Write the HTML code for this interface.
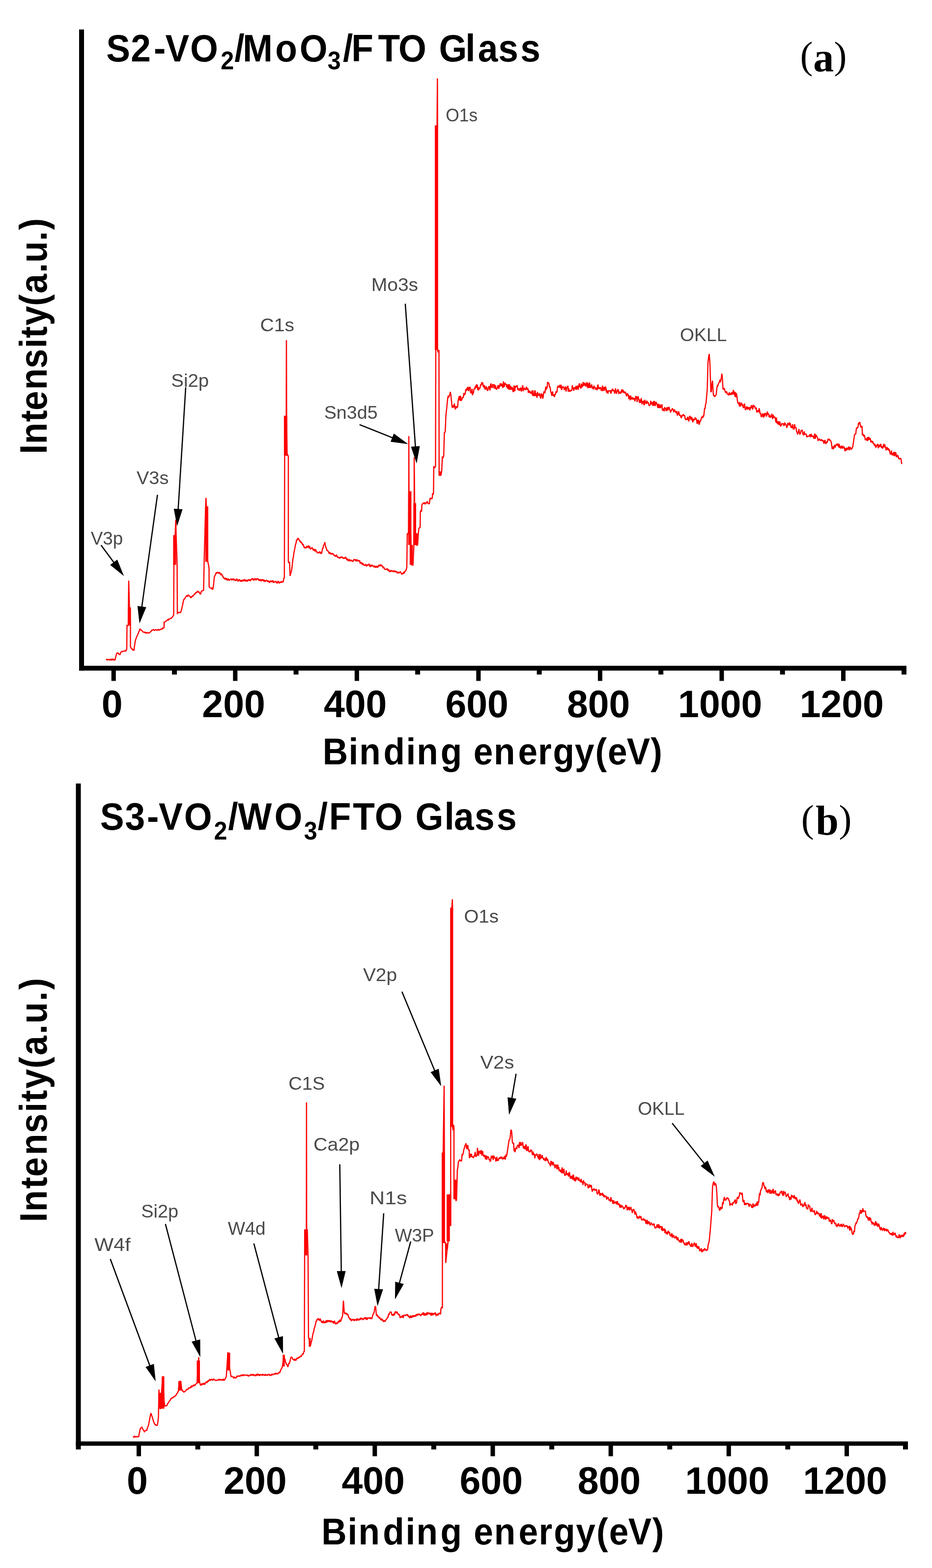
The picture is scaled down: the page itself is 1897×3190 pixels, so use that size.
<!DOCTYPE html><html><head><meta charset="utf-8"><title>XPS spectra</title><style>html,body{margin:0;padding:0;background:#fff;width:1897px;height:3190px;overflow:hidden}</style></head><body><svg width="1897" height="3190" viewBox="0 0 1897 3190" style="display:block"><rect width="100%" height="100%" fill="#fff"/><rect x="161.00" y="60.00" width="10.00" height="1304.30" fill="#000"/><rect x="161.00" y="1354.50" width="1684.00" height="9.80" fill="#000"/><rect x="226.75" y="1363.30" width="9.00" height="22.00" fill="#000"/><rect x="474.29" y="1363.30" width="9.00" height="22.00" fill="#000"/><rect x="721.83" y="1363.30" width="9.00" height="22.00" fill="#000"/><rect x="969.37" y="1363.30" width="9.00" height="22.00" fill="#000"/><rect x="1216.91" y="1363.30" width="9.00" height="22.00" fill="#000"/><rect x="1464.45" y="1363.30" width="9.00" height="22.00" fill="#000"/><rect x="1711.99" y="1363.30" width="9.00" height="22.00" fill="#000"/><rect x="350.02" y="1363.30" width="10.00" height="9.00" fill="#000"/><rect x="597.56" y="1363.30" width="10.00" height="9.00" fill="#000"/><rect x="845.10" y="1363.30" width="10.00" height="9.00" fill="#000"/><rect x="1092.64" y="1363.30" width="10.00" height="9.00" fill="#000"/><rect x="1340.18" y="1363.30" width="10.00" height="9.00" fill="#000"/><rect x="1587.72" y="1363.30" width="10.00" height="9.00" fill="#000"/><rect x="1835.00" y="1363.30" width="10.00" height="9.00" fill="#000"/>
<rect x="154.50" y="1594.00" width="10.00" height="1354.80" fill="#000"/><rect x="154.50" y="2932.50" width="1693.50" height="8.80" fill="#000"/><rect x="278.00" y="2940.30" width="9.00" height="22.30" fill="#000"/><rect x="518.16" y="2940.30" width="9.00" height="22.30" fill="#000"/><rect x="758.32" y="2940.30" width="9.00" height="22.30" fill="#000"/><rect x="998.48" y="2940.30" width="9.00" height="22.30" fill="#000"/><rect x="1238.64" y="2940.30" width="9.00" height="22.30" fill="#000"/><rect x="1478.80" y="2940.30" width="9.00" height="22.30" fill="#000"/><rect x="1718.96" y="2940.30" width="9.00" height="22.30" fill="#000"/><rect x="397.58" y="2940.30" width="10.00" height="8.50" fill="#000"/><rect x="637.74" y="2940.30" width="10.00" height="8.50" fill="#000"/><rect x="877.90" y="2940.30" width="10.00" height="8.50" fill="#000"/><rect x="1118.06" y="2940.30" width="10.00" height="8.50" fill="#000"/><rect x="1358.22" y="2940.30" width="10.00" height="8.50" fill="#000"/><rect x="1598.38" y="2940.30" width="10.00" height="8.50" fill="#000"/><rect x="1838.00" y="2940.30" width="10.00" height="8.50" fill="#000"/>
<text x="228.05" y="1459.30" text-anchor="middle" font-family="Liberation Sans, sans-serif" font-weight="bold" font-size="77">0</text>
<text x="475.59" y="1459.30" text-anchor="middle" font-family="Liberation Sans, sans-serif" font-weight="bold" font-size="77">200</text>
<text x="723.13" y="1459.30" text-anchor="middle" font-family="Liberation Sans, sans-serif" font-weight="bold" font-size="77">400</text>
<text x="970.67" y="1459.30" text-anchor="middle" font-family="Liberation Sans, sans-serif" font-weight="bold" font-size="77">600</text>
<text x="1218.21" y="1459.30" text-anchor="middle" font-family="Liberation Sans, sans-serif" font-weight="bold" font-size="77">800</text>
<text x="1465.75" y="1459.30" text-anchor="middle" font-family="Liberation Sans, sans-serif" font-weight="bold" font-size="77">1000</text>
<text x="1713.29" y="1459.30" text-anchor="middle" font-family="Liberation Sans, sans-serif" font-weight="bold" font-size="77">1200</text>
<text x="279.30" y="3039.30" text-anchor="middle" font-family="Liberation Sans, sans-serif" font-weight="bold" font-size="77">0</text>
<text x="519.46" y="3039.30" text-anchor="middle" font-family="Liberation Sans, sans-serif" font-weight="bold" font-size="77">200</text>
<text x="759.62" y="3039.30" text-anchor="middle" font-family="Liberation Sans, sans-serif" font-weight="bold" font-size="77">400</text>
<text x="999.78" y="3039.30" text-anchor="middle" font-family="Liberation Sans, sans-serif" font-weight="bold" font-size="77">600</text>
<text x="1239.94" y="3039.30" text-anchor="middle" font-family="Liberation Sans, sans-serif" font-weight="bold" font-size="77">800</text>
<text x="1480.10" y="3039.30" text-anchor="middle" font-family="Liberation Sans, sans-serif" font-weight="bold" font-size="77">1000</text>
<text x="1720.26" y="3039.30" text-anchor="middle" font-family="Liberation Sans, sans-serif" font-weight="bold" font-size="77">1200</text>
<text transform="scale(0.9300 1)" x="706.07 762.96 786.27 839.15 888.60 911.97 964.18 1010.88 1036.34 1080.68 1133.81 1177.37 1210.15 1258.20 1302.60 1330.05 1371.69 1423.97" y="1555.00" font-family="Liberation Sans, sans-serif" font-weight="bold" font-size="76.50" fill="#000">Binding energy(eV)</text>
<text transform="scale(0.9300 1)" x="703.60 760.83 784.46 837.80 887.58 911.27 963.93 1010.93 1036.71 1081.46 1135.04 1178.94 1212.07 1260.53 1305.26 1333.01 1375.05 1427.66" y="3142.50" font-family="Liberation Sans, sans-serif" font-weight="bold" font-size="76.50" fill="#000">Binding energy(eV)</text>
<text transform="translate(95.20 0) rotate(-90) scale(0.9300 1)" x="-993.17 -971.62 -922.82 -897.94 -852.59 -805.92 -761.52 -739.59 -712.15 -669.32 -641.82 -596.90 -574.87 -527.11 -502.88" y="0" font-family="Liberation Sans, sans-serif" font-weight="bold" font-size="77.0">Intensity(a.u.)</text>
<text transform="translate(95.20 0) rotate(-90) scale(0.9300 1)" x="-2673.27 -2650.47 -2600.27 -2574.16 -2527.08 -2478.78 -2433.15 -2410.34 -2381.57 -2337.43 -2308.62 -2262.50 -2239.20 -2190.16 -2165.03" y="0" font-family="Liberation Sans, sans-serif" font-weight="bold" font-size="77.0">Intensity(a.u.)</text>
<text transform="scale(0.9500 1)" font-family="Liberation Sans, sans-serif" font-weight="bold" fill="#000"><tspan x="227.61 280.37 329.59 354.32 407.46" y="124.70" font-size="77.00">S2-VO</tspan><tspan x="472.80" y="141.20" font-size="51.00">2</tspan><tspan x="502.46 520.03 589.64 641.78" y="124.70" font-size="77.00">/MoO</tspan><tspan x="701.94" y="141.20" font-size="51.00">3</tspan><tspan x="734.67 752.95 810.04 853.67 905.09 940.60 997.24 1023.95 1067.66 1115.02" y="124.70" font-size="77.00">/FTO Glass</tspan></text>
<text transform="scale(0.9500 1)" font-family="Liberation Sans, sans-serif" font-weight="bold" fill="#000"><tspan x="214.45 267.94 314.85 340.11 394.41" y="1688.50" font-size="77.00">S3-VO</tspan><tspan x="458.32" y="1708.30" font-size="51.00">2</tspan><tspan x="488.67 509.71 587.88" y="1688.50" font-size="77.00">/WO</tspan><tspan x="651.31" y="1708.30" font-size="51.00">3</tspan><tspan x="680.78 704.90 756.04 802.99 862.99 889.91 952.24 972.58 1016.97 1064.34" y="1688.50" font-size="77.00">/FTO Glass</tspan></text>
<text font-family="Liberation Serif, serif" fill="#000"><tspan x="1628.56" y="138.90" font-size="78" font-weight="normal">(</tspan><tspan x="1655.28" y="145.20" font-size="84" font-weight="bold">a</tspan><tspan x="1697.47" y="138.90" font-size="78" font-weight="normal">)</tspan></text>
<text font-family="Liberation Serif, serif" fill="#000"><tspan x="1630.76" y="1691.80" font-size="78" font-weight="normal">(</tspan><tspan x="1660.21" y="1698.30" font-size="84" font-weight="bold">b</tspan><tspan x="1707.47" y="1691.80" font-size="78" font-weight="normal">)</tspan></text>
<path d="M216.0 1342.0 L216.9 1341.3 L217.8 1342.7 L218.8 1342.5 L219.7 1341.5 L220.6 1342.0 L221.5 1341.9 L222.4 1342.3 L223.4 1342.6 L224.3 1341.2 L225.2 1341.1 L226.1 1342.7 L227.0 1341.9 L228.0 1342.5 L228.9 1341.0 L229.8 1341.9 L230.7 1342.4 L231.6 1341.5 L232.6 1342.9 L233.5 1342.8 L234.4 1342.0 L235.5 1336.7 L236.6 1332.4 L237.7 1329.0 L238.8 1328.7 L240.0 1328.3 L241.0 1330.2 L242.1 1330.1 L243.1 1330.8 L244.1 1332.4 L245.0 1330.1 L245.9 1327.2 L246.8 1326.0 L247.8 1325.3 L248.7 1325.5 L249.7 1325.5 L250.6 1324.8 L251.6 1324.6 L252.5 1324.4 L253.5 1324.7 L254.4 1324.2 L255.4 1323.5 L256.3 1324.3 L258.0 1320.0 L258.5 1272.5 L259.8 1273.2 L261.0 1272.5 L262.0 1181.2 L263.5 1235.7 L265.5 1272.5 L265.5 1316.0 L266.8 1318.2 L268.0 1320.2 L268.9 1321.0 L269.9 1320.7 L270.8 1322.8 L271.8 1323.1 L272.7 1322.9 L274.1 1312.0 L275.4 1303.8 L276.5 1299.9 L277.7 1297.1 L278.8 1294.3 L279.9 1292.0 L281.1 1289.3 L282.2 1286.1 L283.1 1284.7 L284.1 1281.4 L285.0 1279.3 L286.1 1281.0 L287.2 1281.8 L288.2 1282.1 L289.3 1283.8 L290.4 1284.7 L291.3 1285.9 L292.2 1286.3 L293.1 1286.1 L294.1 1286.7 L295.0 1286.1 L295.9 1287.5 L296.8 1287.0 L297.7 1288.1 L298.6 1287.3 L299.5 1286.8 L300.4 1287.6 L301.3 1287.9 L302.2 1287.8 L303.1 1287.2 L304.0 1287.5 L304.9 1286.5 L305.8 1285.7 L306.8 1285.3 L307.7 1283.9 L308.6 1282.7 L309.5 1282.0 L310.4 1281.9 L311.4 1280.9 L312.3 1280.9 L313.2 1282.1 L314.2 1282.6 L315.1 1281.8 L316.0 1281.3 L317.0 1280.8 L317.9 1281.4 L318.8 1282.3 L319.7 1281.8 L320.7 1281.3 L321.6 1281.8 L322.5 1280.5 L323.5 1281.0 L324.4 1281.8 L325.3 1281.0 L326.3 1280.7 L327.2 1280.7 L328.2 1279.7 L329.1 1279.6 L330.1 1279.9 L331.1 1277.4 L332.1 1278.3 L333.0 1277.8 L334.0 1276.6 L334.0 1265.7 L335.0 1265.9 L335.9 1265.0 L336.9 1264.6 L337.9 1263.4 L338.9 1262.9 L339.8 1262.0 L340.8 1261.6 L341.7 1260.2 L342.6 1261.5 L343.5 1260.4 L344.4 1259.1 L345.4 1259.3 L346.3 1258.8 L347.2 1258.1 L348.1 1257.6 L349.0 1257.5 L350.0 1256.2 L351.1 1255.0 L352.1 1253.6 L353.1 1252.0 L353.5 1250.7 L354.0 1149.0 L356.5 1088.6 L357.8 1057.2 L358.5 1088.6 L360.5 1149.2 L361.0 1248.0 L362.0 1247.5 L363.0 1245.9 L364.0 1246.0 L365.0 1245.5 L366.0 1246.1 L367.0 1246.4 L368.0 1245.0 L368.9 1242.2 L369.9 1238.7 L370.8 1234.3 L371.9 1230.2 L373.1 1223.5 L374.2 1219.3 L375.3 1219.1 L376.5 1217.2 L377.6 1215.3 L378.6 1213.3 L379.5 1212.5 L380.5 1211.9 L381.5 1213.8 L382.5 1211.5 L383.4 1210.5 L384.4 1211.2 L385.4 1213.0 L386.4 1213.4 L387.5 1213.8 L388.5 1216.6 L389.5 1214.5 L390.4 1214.7 L391.4 1212.6 L392.4 1211.9 L393.4 1212.5 L394.3 1210.6 L395.3 1209.8 L396.2 1208.4 L397.1 1208.2 L398.0 1205.9 L398.9 1206.4 L399.9 1205.7 L400.8 1204.2 L401.7 1203.1 L402.6 1205.2 L403.5 1203.0 L404.5 1204.4 L405.6 1204.7 L406.6 1207.4 L407.6 1208.4 L408.5 1208.2 L409.5 1204.0 L410.4 1202.6 L411.4 1201.7 L412.3 1201.6 L413.4 1201.8 L414.4 1200.3 L415.5 1143.0 L418.5 1030.0 L419.2 1012.9 L420.0 1030.0 L423.0 1143.0 L424.2 1148.2 L425.5 1156.7 L425.6 1193.5 L426.7 1195.2 L427.8 1195.9 L428.9 1196.3 L430.0 1197.0 L431.2 1196.3 L432.3 1199.5 L433.5 1198.0 L434.9 1187.4 L436.2 1174.4 L437.5 1171.1 L438.9 1167.6 L440.1 1165.4 L441.2 1166.3 L442.4 1164.6 L443.3 1164.5 L444.2 1165.7 L445.2 1164.9 L446.1 1166.7 L447.0 1164.4 L447.9 1165.9 L448.9 1169.3 L449.8 1169.2 L450.7 1167.9 L451.6 1168.5 L452.6 1172.3 L453.5 1171.3 L454.5 1175.5 L455.4 1176.0 L456.4 1176.0 L457.3 1177.8 L458.2 1176.8 L459.1 1175.9 L460.0 1179.7 L460.9 1176.2 L461.8 1179.6 L462.7 1180.3 L463.7 1178.7 L464.6 1177.1 L465.5 1180.1 L466.4 1180.7 L467.3 1179.6 L468.2 1178.9 L469.1 1178.4 L470.0 1178.4 L470.9 1177.9 L471.8 1179.9 L472.7 1179.0 L473.6 1178.1 L474.6 1177.8 L475.5 1180.3 L476.4 1178.8 L477.3 1179.7 L478.2 1179.1 L479.1 1181.5 L480.0 1180.0 L480.9 1181.7 L481.8 1178.1 L482.8 1178.9 L483.7 1179.5 L484.6 1182.3 L485.5 1181.5 L486.4 1179.7 L487.3 1179.2 L488.3 1181.2 L489.2 1181.9 L490.1 1182.3 L491.0 1180.0 L491.9 1182.2 L492.9 1181.5 L493.8 1180.7 L494.7 1182.8 L495.6 1179.7 L496.5 1181.8 L497.4 1179.2 L498.4 1179.6 L499.3 1182.8 L500.2 1181.1 L501.1 1179.8 L502.0 1181.9 L502.9 1181.1 L503.8 1182.0 L504.7 1179.8 L505.6 1179.6 L506.5 1179.2 L507.4 1181.5 L508.3 1180.3 L509.2 1181.6 L510.1 1181.2 L511.0 1177.9 L511.9 1179.5 L512.8 1177.5 L513.7 1177.1 L514.6 1177.1 L515.5 1180.2 L516.4 1179.8 L517.3 1179.8 L518.2 1177.6 L519.1 1178.6 L520.0 1178.0 L520.9 1179.4 L521.8 1177.8 L522.7 1178.8 L523.6 1177.6 L524.5 1177.2 L525.5 1178.1 L526.4 1180.9 L527.3 1179.7 L528.2 1181.4 L529.1 1179.6 L530.0 1179.1 L530.9 1181.4 L531.8 1181.7 L532.7 1178.5 L533.6 1181.4 L534.5 1179.2 L535.5 1179.5 L536.4 1182.9 L537.3 1179.5 L538.2 1180.6 L539.1 1183.8 L540.0 1182.0 L540.9 1181.8 L541.8 1180.6 L542.7 1180.9 L543.6 1181.3 L544.5 1183.5 L545.5 1180.9 L546.4 1184.3 L547.3 1182.2 L548.2 1184.8 L549.1 1184.6 L550.0 1182.2 L550.9 1182.1 L551.8 1183.1 L552.7 1181.6 L553.6 1184.0 L554.5 1181.6 L555.5 1181.5 L556.4 1185.6 L557.3 1182.9 L558.2 1184.2 L559.1 1183.7 L560.0 1184.0 L560.9 1183.3 L561.9 1182.3 L562.8 1185.8 L563.8 1186.0 L564.7 1186.0 L565.7 1182.6 L566.6 1183.0 L567.6 1184.7 L568.5 1186.2 L569.5 1184.4 L570.4 1185.0 L571.4 1184.9 L572.3 1183.3 L573.3 1184.5 L574.2 1183.6 L575.2 1183.3 L576.1 1184.4 L577.5 1177.7 L578.8 1174.5 L579.4 930.0 L582.6 845.0 L583.0 692.0 L583.4 845.0 L584.4 927.0 L585.6 925.6 L586.9 928.6 L586.9 1143.0 L588.1 1145.4 L589.4 1143.0 L590.4 1171.7 L591.5 1167.3 L592.6 1164.1 L593.7 1159.2 L595.0 1148.7 L596.2 1136.8 L597.1 1134.2 L598.0 1126.2 L599.0 1120.7 L599.9 1116.8 L600.8 1111.1 L601.8 1106.4 L602.7 1104.9 L603.6 1098.1 L604.5 1099.9 L605.5 1095.6 L606.5 1095.2 L607.4 1095.6 L608.4 1097.6 L609.4 1099.6 L610.4 1101.4 L611.4 1101.0 L612.4 1104.3 L613.3 1102.7 L614.2 1105.3 L615.2 1105.5 L616.1 1109.6 L617.0 1108.0 L617.9 1109.3 L618.9 1113.8 L619.8 1114.3 L620.7 1112.8 L621.7 1115.4 L622.6 1113.3 L623.5 1115.1 L624.5 1110.7 L625.4 1112.4 L626.4 1113.8 L627.3 1111.8 L628.2 1109.8 L629.2 1115.4 L630.1 1111.3 L631.0 1115.3 L632.0 1117.0 L632.9 1116.5 L633.9 1114.1 L634.8 1115.6 L635.7 1113.9 L636.6 1116.8 L637.5 1119.7 L638.4 1116.7 L639.3 1120.6 L640.3 1117.0 L641.2 1121.9 L642.1 1117.5 L643.0 1119.6 L643.9 1123.5 L644.8 1121.8 L645.7 1123.8 L646.6 1124.7 L647.5 1124.7 L648.4 1124.5 L649.3 1124.5 L650.2 1122.0 L651.1 1123.8 L652.0 1122.6 L652.9 1126.0 L653.8 1126.1 L654.7 1125.5 L655.7 1120.1 L656.6 1114.9 L657.5 1116.0 L658.5 1109.3 L659.8 1108.0 L661.0 1103.1 L662.2 1109.0 L663.5 1114.3 L664.5 1116.4 L665.6 1120.0 L666.6 1119.6 L667.6 1121.2 L668.7 1122.7 L669.7 1125.5 L670.6 1124.5 L671.5 1123.6 L672.4 1127.3 L673.3 1126.4 L674.2 1127.6 L675.2 1125.2 L676.1 1127.1 L677.0 1126.3 L677.9 1126.6 L678.8 1127.7 L679.7 1129.3 L680.6 1131.5 L681.5 1129.7 L682.4 1130.1 L683.3 1131.7 L684.2 1130.2 L685.2 1129.4 L686.1 1132.6 L687.0 1132.9 L687.9 1134.2 L688.8 1133.5 L689.7 1134.3 L690.7 1135.3 L691.7 1135.5 L692.7 1132.9 L693.7 1134.3 L694.7 1134.2 L695.6 1132.9 L696.6 1133.8 L697.6 1134.6 L698.6 1136.4 L699.6 1134.3 L700.5 1136.9 L701.4 1134.0 L702.3 1136.4 L703.2 1133.7 L704.1 1134.3 L705.1 1137.0 L706.0 1139.4 L706.9 1136.1 L707.8 1139.7 L708.7 1140.7 L709.6 1139.2 L710.5 1138.3 L711.4 1140.3 L712.3 1141.2 L713.2 1138.8 L714.1 1140.5 L715.0 1140.8 L715.9 1140.1 L716.8 1141.5 L717.7 1141.8 L718.6 1142.2 L719.5 1140.2 L720.5 1138.2 L721.4 1138.7 L722.3 1138.6 L723.2 1140.4 L724.1 1141.5 L725.0 1137.9 L725.9 1141.2 L726.8 1141.4 L727.7 1139.6 L728.6 1140.5 L729.5 1140.5 L730.4 1139.5 L731.3 1143.0 L732.2 1140.2 L733.1 1145.7 L734.0 1145.5 L735.0 1145.2 L735.9 1144.1 L736.8 1148.0 L737.7 1148.9 L738.6 1145.5 L739.5 1148.0 L740.4 1149.5 L741.4 1150.0 L742.3 1149.3 L743.2 1149.6 L744.2 1148.5 L745.1 1151.0 L746.1 1151.4 L747.0 1148.7 L747.9 1150.9 L748.9 1149.2 L749.8 1148.1 L750.8 1149.0 L751.7 1148.2 L752.6 1152.2 L753.6 1152.6 L754.5 1150.5 L755.5 1149.0 L756.5 1151.7 L757.5 1151.2 L758.5 1150.1 L759.5 1151.4 L760.4 1151.5 L761.4 1154.3 L762.4 1151.1 L763.4 1152.3 L764.4 1154.2 L765.4 1153.5 L766.3 1151.1 L767.3 1153.7 L768.2 1153.2 L769.2 1153.9 L770.2 1150.5 L771.1 1150.5 L772.1 1151.3 L773.1 1149.6 L774.0 1150.8 L775.0 1148.7 L775.9 1150.5 L776.9 1149.2 L777.8 1151.7 L778.8 1152.9 L779.7 1154.8 L780.6 1153.8 L781.6 1154.7 L782.5 1157.5 L783.5 1158.2 L784.4 1158.0 L785.4 1158.6 L786.3 1158.0 L787.3 1157.8 L788.2 1157.3 L789.2 1160.9 L790.2 1157.9 L791.1 1161.1 L792.1 1160.5 L793.1 1162.7 L794.0 1162.1 L795.0 1163.3 L795.9 1159.7 L796.9 1161.7 L797.9 1161.9 L798.8 1162.4 L799.8 1161.4 L800.7 1162.5 L801.7 1162.0 L802.6 1163.0 L803.6 1160.8 L804.5 1163.0 L805.5 1163.2 L806.4 1162.7 L807.4 1163.4 L808.3 1165.3 L809.3 1164.2 L810.2 1165.3 L811.1 1164.6 L812.0 1165.6 L812.9 1164.6 L813.8 1164.0 L814.8 1163.3 L815.7 1164.8 L816.6 1166.5 L817.5 1168.0 L818.4 1168.0 L819.3 1166.7 L820.3 1165.9 L821.4 1167.2 L822.4 1164.0 L823.4 1164.9 L824.5 1162.1 L825.5 1161.7 L826.8 1159.0 L828.0 1154.0 L829.0 1084.8 L830.2 1087.2 L831.5 1083.3 L832.0 999.4 L832.1 887.2 L832.5 999.4 L836.0 1083.3 L836.5 1108.6 L838.0 1149.2 L839.2 1148.9 L840.5 1150.5 L842.5 1108.6 L843.0 1023.6 L843.0 930.6 L844.0 1023.6 L846.0 1108.6 L847.0 1106.7 L848.0 1109.3 L849.0 1108.8 L850.0 1108.6 L851.6 1084.3 L852.6 1075.2 L853.9 1073.3 L855.1 1073.2 L855.6 1041.8 L856.9 1037.6 L858.1 1040.8 L858.6 1027.7 L859.6 1025.5 L860.7 1024.4 L861.7 1023.6 L862.7 1022.5 L863.7 1025.7 L864.7 1023.1 L865.7 1024.0 L866.7 1024.9 L867.7 1023.3 L868.7 1020.9 L869.7 1020.6 L870.7 1023.6 L871.8 1023.8 L872.8 1024.9 L873.8 1024.7 L875.3 1013.5 L876.2 1014.6 L877.1 1012.7 L878.1 1014.6 L879.0 1014.6 L879.9 1013.5 L880.4 1003.4 L881.4 1006.6 L882.4 1002.4 L882.9 948.3 L883.8 950.9 L884.7 951.4 L885.6 950.5 L886.5 947.8 L887.0 712.0 L889.6 255.0 L890.3 159.4 L890.6 255.0 L890.6 712.0 L891.6 716.9 L892.5 713.6 L893.5 712.0 L893.8 959.0 L894.9 960.6 L895.9 962.8 L897.0 968.0 L898.0 964.9 L899.1 957.9 L900.5 928.6 L901.8 931.9 L903.1 927.6 L904.5 880.1 L906.1 879.1 L907.0 860.0 L907.5 846.0 L908.8 834.9 L910.0 822.7 L911.3 809.3 L912.6 805.0 L913.6 808.9 L914.6 803.9 L915.6 803.2 L916.6 797.1 L917.6 802.7 L918.8 814.7 L920.0 826.5 L921.0 829.7 L921.9 825.7 L922.9 825.0 L923.8 828.9 L924.8 820.9 L925.7 827.2 L926.6 832.8 L927.6 829.7 L928.5 826.2 L929.5 829.9 L930.4 828.9 L931.4 827.7 L932.6 814.6 L933.9 809.0 L934.8 805.7 L935.7 815.1 L936.6 807.6 L937.5 805.6 L938.4 815.9 L939.3 812.5 L940.2 812.7 L941.1 808.8 L942.1 808.5 L943.0 809.3 L944.0 799.6 L944.9 803.8 L945.8 802.4 L946.8 801.6 L947.7 795.2 L948.6 791.3 L949.6 795.1 L950.5 789.2 L951.5 792.9 L952.4 786.8 L953.3 794.4 L954.3 794.7 L955.2 788.9 L956.1 788.0 L957.1 788.0 L958.0 799.4 L959.0 797.3 L959.9 800.6 L960.8 791.1 L961.8 804.1 L962.7 800.2 L963.7 798.8 L964.7 791.7 L965.7 790.2 L966.7 791.7 L967.7 785.1 L968.7 789.5 L969.6 781.8 L970.5 788.2 L971.5 782.4 L972.5 793.9 L973.4 787.2 L974.3 794.0 L975.3 788.9 L976.3 790.8 L977.4 787.8 L978.4 781.9 L979.4 784.3 L980.5 777.7 L981.5 781.4 L982.4 777.6 L983.4 786.7 L984.3 783.0 L985.3 789.4 L986.2 783.6 L987.1 791.3 L988.1 792.4 L989.0 788.0 L990.0 786.4 L990.9 791.5 L991.9 793.9 L992.8 795.2 L993.7 788.6 L994.6 788.5 L995.5 785.4 L996.4 791.5 L997.3 794.2 L998.3 783.8 L999.2 780.1 L1000.1 787.9 L1001.0 788.2 L1001.9 789.0 L1002.8 781.4 L1003.8 784.4 L1004.7 782.0 L1005.6 790.2 L1006.6 781.8 L1007.5 791.0 L1008.5 784.3 L1009.4 789.8 L1010.4 792.6 L1011.4 791.4 L1012.3 788.7 L1013.3 784.8 L1014.3 784.5 L1015.2 791.4 L1016.2 785.4 L1017.2 785.9 L1018.1 779.8 L1019.1 782.6 L1020.0 785.4 L1021.0 780.1 L1021.9 783.6 L1022.9 787.8 L1023.8 788.9 L1024.8 775.8 L1025.7 786.0 L1026.6 786.7 L1027.6 779.2 L1028.5 780.0 L1029.5 782.6 L1030.4 781.4 L1031.3 788.2 L1032.2 782.1 L1033.1 789.6 L1034.0 789.0 L1034.9 781.8 L1035.9 793.1 L1036.8 781.9 L1037.7 784.7 L1038.6 792.8 L1039.5 785.6 L1040.4 792.6 L1041.3 790.8 L1042.3 787.3 L1043.2 791.6 L1044.2 796.5 L1045.1 797.3 L1046.1 785.4 L1047.0 785.5 L1048.0 795.9 L1048.9 785.0 L1049.8 787.9 L1050.8 785.6 L1051.7 785.1 L1052.7 784.1 L1053.6 792.2 L1054.6 793.5 L1055.5 790.0 L1056.5 792.5 L1057.4 794.7 L1058.4 792.2 L1059.3 788.5 L1060.3 791.8 L1061.2 796.4 L1062.2 791.9 L1063.1 786.5 L1064.1 784.0 L1065.0 795.9 L1066.0 790.0 L1066.9 791.7 L1067.9 788.8 L1068.8 792.7 L1069.8 792.5 L1070.7 792.4 L1071.7 786.7 L1072.6 791.0 L1073.5 792.3 L1074.5 789.8 L1075.4 799.4 L1076.4 793.7 L1077.3 797.3 L1078.3 798.4 L1079.2 796.0 L1080.1 799.7 L1081.0 799.9 L1082.0 800.8 L1082.9 794.5 L1083.8 804.7 L1084.7 794.1 L1085.6 804.8 L1086.5 804.4 L1087.5 804.8 L1088.4 794.7 L1089.3 795.6 L1090.2 805.7 L1091.1 801.6 L1092.0 800.7 L1093.0 809.3 L1093.9 797.3 L1094.8 804.3 L1095.7 804.3 L1096.7 803.9 L1097.7 800.1 L1098.7 803.9 L1099.7 808.4 L1100.7 811.0 L1101.6 800.0 L1102.6 806.9 L1103.6 801.6 L1104.6 811.2 L1105.6 807.6 L1106.5 799.5 L1107.4 796.0 L1108.3 798.0 L1109.2 799.9 L1110.1 791.6 L1111.0 786.5 L1111.9 792.8 L1112.8 790.3 L1113.7 788.3 L1114.6 778.0 L1115.5 778.0 L1116.4 779.8 L1117.4 780.1 L1118.3 787.2 L1119.2 787.0 L1120.1 789.9 L1121.1 798.7 L1122.0 797.7 L1122.9 805.1 L1123.8 801.5 L1124.8 796.4 L1125.7 805.0 L1126.6 804.3 L1127.5 802.1 L1128.4 807.8 L1129.3 802.7 L1130.2 802.8 L1131.1 799.5 L1132.0 795.8 L1132.9 799.1 L1133.8 796.8 L1134.7 788.0 L1135.6 784.7 L1136.5 787.8 L1137.4 786.2 L1138.3 788.5 L1139.2 782.9 L1140.2 786.4 L1141.1 789.7 L1142.0 782.7 L1142.9 793.4 L1143.8 791.3 L1144.8 786.9 L1145.7 786.9 L1146.6 787.8 L1147.5 787.6 L1148.4 793.5 L1149.3 790.4 L1150.2 790.9 L1151.2 786.0 L1152.1 796.5 L1153.0 791.1 L1153.9 788.6 L1154.8 788.4 L1155.8 784.7 L1156.7 796.9 L1157.6 789.9 L1158.5 795.6 L1159.4 795.6 L1160.3 796.0 L1161.2 793.7 L1162.2 795.0 L1163.1 794.8 L1164.0 793.0 L1164.9 783.8 L1165.8 788.9 L1166.8 789.4 L1167.7 794.9 L1168.6 791.8 L1169.5 787.8 L1170.4 790.4 L1171.3 790.8 L1172.2 785.4 L1173.2 793.1 L1174.1 788.8 L1175.0 785.4 L1175.9 786.0 L1176.8 792.9 L1177.8 786.6 L1178.7 781.4 L1179.6 781.0 L1180.5 788.2 L1181.4 786.3 L1182.3 790.8 L1183.2 780.7 L1184.2 783.7 L1185.1 787.8 L1186.0 784.5 L1186.9 778.4 L1187.8 779.0 L1188.8 785.1 L1189.7 781.3 L1190.6 779.1 L1191.5 781.2 L1192.4 786.3 L1193.3 784.9 L1194.2 778.7 L1195.2 778.7 L1196.1 789.3 L1197.0 786.5 L1197.9 780.0 L1198.8 789.4 L1199.8 778.0 L1200.7 782.7 L1201.6 789.3 L1202.5 784.5 L1203.4 787.6 L1204.3 781.9 L1205.2 790.4 L1206.2 786.6 L1207.1 790.4 L1208.0 791.0 L1208.9 784.8 L1209.8 788.4 L1210.8 786.8 L1211.7 792.4 L1212.6 790.6 L1213.5 789.8 L1214.4 791.2 L1215.3 793.8 L1216.2 783.9 L1217.2 783.4 L1218.1 791.0 L1219.0 787.8 L1219.9 791.8 L1220.8 788.7 L1221.8 788.7 L1222.7 788.0 L1223.6 794.8 L1224.5 794.0 L1225.5 791.5 L1226.4 784.5 L1227.3 795.8 L1228.2 790.9 L1229.1 787.6 L1230.1 789.5 L1231.0 795.1 L1231.9 786.3 L1232.8 788.2 L1233.8 791.0 L1234.7 799.2 L1235.6 794.4 L1236.5 797.7 L1237.4 800.7 L1238.3 795.0 L1239.2 795.4 L1240.2 795.1 L1241.1 794.7 L1242.0 795.0 L1242.9 798.7 L1243.8 800.5 L1244.7 793.2 L1245.6 796.1 L1246.5 791.8 L1247.4 791.7 L1248.4 794.5 L1249.3 795.6 L1250.2 795.1 L1251.1 800.8 L1252.0 794.4 L1252.9 789.9 L1253.8 796.2 L1254.8 801.0 L1255.7 797.6 L1256.6 795.3 L1257.5 792.6 L1258.5 793.1 L1259.4 800.3 L1260.3 799.7 L1261.2 796.7 L1262.1 799.8 L1263.1 800.1 L1264.0 799.1 L1264.9 792.8 L1265.8 793.9 L1266.8 798.4 L1267.7 792.7 L1268.6 794.4 L1269.5 799.4 L1270.5 797.5 L1271.4 797.2 L1272.4 800.4 L1273.3 797.6 L1274.3 802.4 L1275.2 806.0 L1276.1 805.1 L1277.1 800.1 L1278.0 802.4 L1279.0 803.8 L1279.9 811.9 L1280.9 808.6 L1281.8 804.9 L1282.7 814.4 L1283.7 805.0 L1284.6 808.6 L1285.6 811.8 L1286.5 811.4 L1287.5 808.2 L1288.4 813.0 L1289.3 809.4 L1290.3 812.6 L1291.2 809.9 L1292.2 816.4 L1293.1 813.3 L1294.1 805.4 L1295.0 811.0 L1295.9 806.6 L1296.8 817.9 L1297.8 808.7 L1298.7 806.4 L1299.6 809.8 L1300.5 813.1 L1301.5 819.6 L1302.4 812.8 L1303.3 817.4 L1304.2 819.2 L1305.2 810.0 L1306.1 817.1 L1307.0 822.5 L1307.9 817.1 L1308.9 817.3 L1309.8 815.3 L1310.7 823.4 L1311.6 824.1 L1312.6 813.3 L1313.5 819.5 L1314.4 818.2 L1315.3 821.8 L1316.3 815.1 L1317.2 817.4 L1318.1 820.8 L1319.0 818.0 L1319.9 820.5 L1320.8 824.6 L1321.8 825.4 L1322.7 824.5 L1323.6 823.1 L1324.5 815.5 L1325.4 819.4 L1326.3 823.0 L1327.3 818.2 L1328.2 820.9 L1329.1 826.0 L1330.0 815.9 L1330.9 825.3 L1331.8 815.8 L1332.8 819.3 L1333.7 826.0 L1334.6 820.8 L1335.5 817.5 L1336.4 822.2 L1337.3 821.4 L1338.3 828.0 L1339.2 829.8 L1340.1 821.4 L1341.0 824.6 L1341.9 830.3 L1342.8 826.4 L1343.8 822.7 L1344.7 830.2 L1345.6 825.4 L1346.5 827.8 L1347.4 822.4 L1348.3 835.3 L1349.3 831.7 L1350.2 835.6 L1351.1 830.8 L1352.0 836.9 L1352.9 828.2 L1353.8 831.8 L1354.8 830.8 L1355.7 834.9 L1356.6 836.2 L1357.5 828.6 L1358.4 829.4 L1359.3 835.0 L1360.3 831.5 L1361.2 828.1 L1362.1 829.1 L1363.0 833.9 L1363.9 834.5 L1364.8 839.2 L1365.8 834.1 L1366.7 835.2 L1367.6 834.0 L1368.5 830.2 L1369.4 834.0 L1370.3 832.9 L1371.3 838.7 L1372.2 833.9 L1373.1 833.8 L1374.0 836.2 L1374.9 838.1 L1375.8 837.0 L1376.8 840.9 L1377.7 836.2 L1378.6 845.3 L1379.5 843.6 L1380.4 842.2 L1381.3 836.9 L1382.3 840.8 L1383.2 845.8 L1384.1 844.0 L1385.0 846.4 L1386.0 849.0 L1387.0 850.5 L1387.9 844.1 L1388.8 846.9 L1389.8 845.4 L1390.8 843.6 L1391.7 844.3 L1392.7 846.3 L1393.6 844.9 L1394.5 850.9 L1395.5 853.5 L1396.5 852.4 L1397.4 852.2 L1398.3 854.5 L1399.2 849.1 L1400.2 848.9 L1401.1 853.4 L1402.0 857.3 L1402.9 851.8 L1403.8 846.9 L1404.7 847.2 L1405.7 850.7 L1406.6 854.5 L1407.5 848.2 L1408.4 850.0 L1409.3 855.6 L1410.2 859.3 L1411.2 851.7 L1412.1 854.9 L1413.0 854.0 L1413.9 853.9 L1414.9 849.0 L1415.9 853.5 L1416.9 852.1 L1417.9 854.2 L1418.8 861.2 L1419.8 861.0 L1420.8 854.2 L1421.8 855.5 L1422.8 863.9 L1423.8 862.1 L1424.7 855.8 L1425.7 856.6 L1426.6 854.4 L1427.6 850.1 L1428.5 848.3 L1429.5 847.9 L1430.4 850.6 L1431.3 845.1 L1432.3 847.4 L1433.2 839.5 L1434.2 830.3 L1435.1 831.6 L1436.1 822.2 L1437.0 820.8 L1438.3 806.2 L1439.6 791.1 L1441.0 738.3 L1442.3 726.5 L1443.6 720.1 L1445.0 740.0 L1446.9 797.7 L1448.0 796.1 L1449.1 780.3 L1450.2 774.6 L1451.8 801.0 L1452.8 805.7 L1453.8 804.2 L1454.8 807.5 L1455.8 805.0 L1456.8 804.3 L1457.9 802.6 L1459.0 789.8 L1460.1 784.5 L1461.0 785.2 L1461.9 782.6 L1462.8 779.5 L1463.7 778.2 L1464.6 776.0 L1465.5 772.2 L1466.4 777.5 L1467.3 772.0 L1468.2 769.0 L1469.1 760.2 L1470.0 764.7 L1471.6 791.1 L1472.6 792.5 L1473.6 789.4 L1474.6 791.2 L1475.6 795.5 L1476.6 797.7 L1477.5 799.3 L1478.5 796.3 L1479.4 797.5 L1480.4 801.9 L1481.3 802.1 L1482.3 802.1 L1483.2 804.3 L1484.1 798.1 L1485.1 800.7 L1486.0 803.5 L1487.0 801.1 L1487.9 800.2 L1488.9 803.2 L1489.8 797.7 L1490.7 801.3 L1491.6 801.4 L1492.5 793.3 L1493.4 797.5 L1494.3 803.1 L1495.2 796.7 L1496.1 807.4 L1497.0 797.8 L1497.9 808.1 L1498.8 800.0 L1499.7 804.3 L1500.8 814.3 L1501.9 819.8 L1503.0 820.8 L1503.9 819.2 L1504.9 826.7 L1505.8 817.9 L1506.8 827.2 L1507.7 821.7 L1508.7 822.9 L1509.6 819.3 L1510.5 825.9 L1511.5 822.2 L1512.4 827.7 L1513.4 829.9 L1514.3 827.9 L1515.3 820.8 L1516.2 827.5 L1517.1 833.4 L1518.0 833.2 L1519.0 829.9 L1519.9 826.7 L1520.8 829.2 L1521.7 833.4 L1522.6 828.3 L1523.5 832.5 L1524.5 830.4 L1525.4 828.4 L1526.3 835.0 L1527.2 828.5 L1528.1 831.2 L1529.0 824.4 L1530.0 829.9 L1530.9 824.6 L1531.8 833.2 L1532.7 830.8 L1533.7 824.8 L1534.6 825.5 L1535.5 826.6 L1536.5 827.2 L1537.5 832.0 L1538.4 830.4 L1539.3 829.5 L1540.3 838.7 L1541.2 838.0 L1542.2 835.0 L1543.2 837.1 L1544.1 837.5 L1545.0 830.6 L1546.0 834.0 L1547.1 842.2 L1548.1 839.7 L1549.2 847.3 L1550.2 847.4 L1551.2 844.2 L1552.2 841.2 L1553.2 848.0 L1554.2 849.1 L1555.1 841.1 L1556.1 847.3 L1557.1 840.1 L1558.1 843.3 L1559.1 840.7 L1560.0 847.4 L1560.9 845.3 L1561.8 837.2 L1562.8 842.5 L1563.7 842.4 L1564.6 842.1 L1565.5 849.1 L1566.4 845.9 L1567.3 845.4 L1568.3 848.8 L1569.2 848.2 L1570.1 847.1 L1571.1 841.6 L1572.0 849.4 L1572.9 852.3 L1573.8 843.8 L1574.8 849.7 L1575.7 848.2 L1576.6 849.4 L1577.6 849.1 L1578.5 854.9 L1579.5 859.5 L1580.4 849.5 L1581.3 861.3 L1582.3 856.6 L1583.2 863.4 L1584.2 856.9 L1585.1 862.2 L1586.0 864.8 L1587.0 857.5 L1587.9 860.3 L1588.8 867.7 L1589.8 864.0 L1590.7 865.6 L1591.6 861.7 L1592.5 861.9 L1593.5 862.1 L1594.4 862.2 L1595.4 865.7 L1596.4 865.4 L1597.3 859.5 L1598.3 862.7 L1599.3 864.2 L1600.2 864.8 L1601.2 869.3 L1602.2 868.5 L1603.2 860.7 L1604.1 863.7 L1605.1 860.8 L1606.1 865.7 L1607.0 860.4 L1608.0 861.2 L1608.9 862.7 L1609.8 869.8 L1610.8 868.9 L1611.7 870.6 L1612.6 864.9 L1613.6 863.6 L1614.5 873.4 L1615.4 871.9 L1616.4 873.5 L1617.3 863.0 L1618.2 867.6 L1619.2 870.6 L1620.1 869.3 L1621.3 877.3 L1622.5 879.8 L1623.4 884.1 L1624.4 879.5 L1625.3 877.5 L1626.2 872.8 L1627.2 881.5 L1628.1 883.2 L1629.0 882.0 L1629.9 878.9 L1630.9 874.8 L1631.8 876.3 L1632.8 874.3 L1633.8 881.4 L1634.8 884.3 L1635.9 885.5 L1636.9 877.6 L1637.9 883.3 L1638.9 883.3 L1639.9 883.7 L1640.8 883.1 L1641.8 887.5 L1642.8 889.4 L1643.7 887.3 L1644.7 887.3 L1645.7 887.5 L1646.6 887.4 L1647.6 886.3 L1648.6 883.4 L1649.5 889.6 L1650.5 886.8 L1651.4 882.6 L1652.3 888.6 L1653.2 885.8 L1654.1 887.8 L1655.0 888.8 L1655.9 887.1 L1656.8 892.8 L1657.7 884.6 L1658.6 882.2 L1659.5 892.8 L1660.4 885.7 L1661.3 885.4 L1662.2 888.0 L1663.1 888.2 L1664.1 891.4 L1665.0 896.9 L1666.0 894.9 L1666.9 893.8 L1667.8 892.4 L1668.8 895.3 L1669.7 895.0 L1670.7 896.1 L1671.6 895.8 L1672.5 893.6 L1673.5 896.7 L1674.4 897.2 L1675.4 895.8 L1676.3 899.6 L1677.2 902.8 L1678.2 897.6 L1679.1 895.1 L1680.0 899.4 L1681.0 902.2 L1681.9 901.3 L1682.8 899.3 L1683.8 900.3 L1684.7 895.7 L1685.6 893.4 L1686.6 894.3 L1687.5 895.1 L1688.4 894.1 L1689.4 896.0 L1690.3 896.1 L1691.5 898.2 L1692.6 903.9 L1693.8 913.7 L1694.7 910.0 L1695.6 908.4 L1696.5 913.8 L1697.4 909.9 L1698.4 905.3 L1699.3 906.7 L1700.2 910.4 L1701.1 906.2 L1702.0 904.3 L1702.9 905.4 L1703.8 904.2 L1704.7 902.6 L1705.6 907.8 L1706.5 902.5 L1707.4 910.6 L1708.3 903.3 L1709.2 911.2 L1710.1 907.9 L1711.0 911.6 L1711.9 911.2 L1712.8 906.8 L1713.7 911.3 L1714.6 911.9 L1715.6 907.3 L1716.5 909.3 L1717.4 911.0 L1718.3 910.2 L1719.3 914.5 L1720.2 918.1 L1721.1 911.7 L1722.1 917.0 L1723.0 913.7 L1723.9 910.6 L1724.8 915.5 L1725.7 911.5 L1726.6 913.3 L1727.5 908.4 L1728.4 916.1 L1729.3 909.3 L1730.2 911.8 L1731.1 909.8 L1732.0 915.1 L1732.9 912.7 L1733.8 912.7 L1734.7 911.3 L1735.9 908.2 L1737.1 899.6 L1738.3 891.5 L1739.4 883.8 L1740.6 883.3 L1741.8 882.7 L1742.9 872.6 L1744.1 870.4 L1745.3 870.6 L1746.4 868.8 L1747.6 859.9 L1748.8 863.0 L1749.9 858.4 L1751.1 864.6 L1752.3 869.5 L1753.4 867.7 L1754.6 866.9 L1755.3 885.6 L1756.3 883.7 L1757.3 884.2 L1758.4 888.5 L1759.4 885.1 L1760.4 890.3 L1761.3 895.3 L1762.3 893.5 L1763.2 895.3 L1764.2 890.9 L1765.1 897.3 L1766.0 889.1 L1767.0 896.0 L1767.9 891.4 L1768.9 889.1 L1769.8 895.0 L1770.7 891.5 L1771.7 893.1 L1772.6 900.0 L1773.5 896.5 L1774.4 898.3 L1775.4 900.4 L1776.3 897.4 L1777.2 902.1 L1778.2 903.2 L1779.1 902.0 L1780.0 907.3 L1781.0 903.4 L1781.9 907.9 L1782.9 909.8 L1783.8 908.4 L1784.7 905.4 L1785.7 904.5 L1786.6 903.3 L1787.6 911.8 L1788.5 909.0 L1789.4 904.8 L1790.4 909.2 L1791.3 907.8 L1792.3 903.2 L1793.2 904.8 L1794.1 911.1 L1795.1 907.8 L1796.0 911.7 L1797.0 911.3 L1797.9 906.7 L1798.9 903.1 L1799.8 910.2 L1800.8 904.1 L1801.8 909.0 L1802.7 910.0 L1803.7 916.2 L1804.7 913.1 L1805.6 909.6 L1806.6 913.8 L1807.6 914.7 L1808.5 912.0 L1809.5 916.0 L1810.5 915.5 L1811.5 922.0 L1812.5 924.0 L1813.6 922.9 L1814.6 916.5 L1815.6 926.2 L1816.6 923.0 L1817.5 922.8 L1818.5 926.9 L1819.4 920.4 L1820.3 920.3 L1821.2 928.4 L1822.2 922.2 L1823.1 920.0 L1824.0 924.9 L1825.0 930.2 L1825.9 925.4 L1826.9 929.8 L1827.9 926.3 L1828.9 933.4 L1829.9 932.4 L1830.9 933.9 L1831.9 932.9 L1832.9 932.4 L1834.1 934.4 L1835.2 942.6 L1836.4 941.7" fill="none" stroke="#ff0000" stroke-width="2.4" stroke-linejoin="miter" stroke-miterlimit="2"/>
<path d="M270.7 2922.8 L271.7 2923.7 L272.6 2923.7 L273.6 2921.9 L274.6 2922.0 L275.5 2923.5 L276.5 2923.3 L277.5 2923.1 L278.4 2922.4 L279.4 2923.0 L280.4 2923.0 L281.3 2923.0 L282.3 2922.8 L283.4 2916.6 L284.5 2911.7 L285.6 2906.3 L286.7 2905.0 L287.8 2904.5 L288.9 2903.0 L289.9 2906.0 L290.9 2907.9 L291.8 2909.0 L292.8 2910.8 L293.8 2912.9 L294.8 2911.8 L295.8 2910.7 L296.8 2910.0 L297.8 2910.2 L298.8 2909.6 L299.9 2905.9 L301.0 2902.8 L302.1 2899.7 L303.1 2895.5 L304.1 2889.9 L305.0 2885.0 L306.0 2879.4 L307.0 2875.0 L308.0 2877.0 L309.0 2880.6 L310.0 2883.2 L311.0 2886.9 L312.0 2889.8 L313.1 2893.6 L314.2 2895.7 L315.3 2898.1 L316.3 2897.8 L317.3 2899.5 L318.2 2899.7 L319.2 2899.8 L320.2 2899.7 L321.4 2892.3 L322.5 2883.2 L323.5 2827.1 L325.0 2860.0 L325.9 2863.9 L326.8 2866.7 L328.5 2837.0 L331.1 2800.7 L333.4 2843.6 L335.1 2860.1 L336.2 2860.7 L337.3 2859.8 L338.4 2860.1 L339.3 2859.7 L340.2 2858.3 L341.1 2855.4 L342.0 2855.2 L342.9 2853.8 L343.8 2851.9 L344.7 2850.7 L345.6 2849.2 L346.5 2848.8 L347.4 2846.6 L348.3 2845.2 L349.3 2845.2 L350.3 2843.6 L351.3 2844.0 L352.3 2843.4 L353.2 2841.8 L354.2 2841.4 L355.2 2841.5 L356.2 2840.4 L357.2 2839.2 L358.2 2838.6 L359.2 2836.3 L360.2 2834.9 L361.2 2834.2 L362.2 2831.2 L363.2 2830.4 L364.8 2810.6 L365.9 2811.8 L367.0 2809.9 L368.1 2810.6 L369.8 2827.1 L370.8 2829.1 L371.8 2828.6 L372.7 2831.2 L373.7 2831.5 L374.7 2832.0 L375.6 2831.3 L376.5 2830.6 L377.4 2830.1 L378.3 2829.2 L379.2 2827.8 L380.1 2826.8 L381.0 2826.8 L381.9 2827.1 L382.8 2825.6 L383.7 2823.5 L384.6 2823.8 L385.5 2824.2 L386.5 2823.4 L387.4 2823.5 L388.4 2821.1 L389.3 2822.1 L390.3 2819.8 L391.2 2820.9 L392.1 2819.4 L393.1 2818.8 L394.0 2820.1 L395.0 2817.5 L395.9 2818.2 L396.9 2818.6 L397.8 2817.2 L398.9 2815.4 L400.0 2814.2 L401.1 2813.9 L404.4 2761.0 L406.1 2810.6 L407.7 2817.2 L408.6 2818.1 L409.5 2816.6 L410.5 2817.2 L411.4 2815.1 L412.3 2815.9 L413.2 2815.2 L414.2 2816.4 L415.1 2814.5 L416.0 2815.5 L417.0 2816.1 L417.9 2812.8 L418.9 2814.1 L419.8 2811.4 L420.8 2811.4 L421.8 2812.3 L422.7 2809.7 L423.7 2809.1 L424.6 2809.9 L425.6 2808.3 L426.5 2806.6 L427.5 2807.3 L428.4 2808.8 L429.3 2806.3 L430.2 2805.9 L431.2 2806.8 L432.1 2807.6 L433.0 2808.0 L433.9 2806.1 L434.8 2806.8 L435.8 2805.9 L436.7 2807.1 L437.6 2808.1 L438.5 2808.0 L439.4 2808.5 L440.3 2808.1 L441.2 2808.4 L442.2 2807.9 L443.1 2807.2 L444.0 2807.3 L444.9 2806.5 L445.9 2807.8 L446.9 2806.8 L447.8 2806.1 L448.8 2807.1 L449.7 2808.4 L450.6 2806.2 L451.6 2807.6 L452.6 2807.0 L453.5 2807.3 L454.4 2806.2 L455.4 2808.7 L456.4 2806.6 L457.3 2807.3 L458.4 2805.4 L459.5 2802.7 L460.6 2800.7 L463.9 2751.1 L467.2 2784.1 L468.3 2788.0 L469.4 2795.4 L470.5 2800.7 L471.5 2800.1 L472.5 2800.4 L473.4 2800.8 L474.4 2801.7 L475.4 2803.3 L476.4 2801.7 L477.3 2803.0 L478.3 2802.3 L479.3 2803.4 L480.2 2802.9 L481.2 2802.7 L482.2 2799.9 L483.1 2800.3 L484.1 2799.3 L485.1 2800.0 L486.0 2799.8 L487.0 2799.0 L487.9 2799.9 L488.8 2799.6 L489.7 2798.1 L490.6 2798.6 L491.5 2798.8 L492.4 2797.1 L493.3 2797.2 L494.2 2798.3 L495.1 2797.3 L496.0 2799.2 L496.9 2797.6 L497.8 2797.1 L498.7 2797.3 L499.6 2797.5 L500.5 2797.4 L501.4 2798.3 L502.3 2798.1 L503.2 2797.5 L504.1 2798.5 L505.0 2797.1 L505.9 2799.3 L506.8 2799.4 L507.7 2798.6 L508.6 2797.6 L509.5 2797.8 L510.4 2798.0 L511.3 2796.2 L512.2 2797.4 L513.1 2797.7 L514.0 2796.5 L514.9 2796.2 L515.8 2798.4 L516.7 2797.4 L517.6 2797.0 L518.5 2797.5 L519.5 2798.8 L520.4 2797.8 L521.3 2796.7 L522.2 2799.0 L523.1 2797.0 L524.0 2795.8 L525.0 2798.0 L525.9 2796.1 L526.8 2796.8 L527.7 2798.5 L528.6 2798.0 L529.5 2795.8 L530.5 2797.2 L531.4 2797.1 L532.3 2797.4 L533.2 2796.5 L534.1 2797.7 L535.0 2796.0 L536.0 2796.7 L536.9 2797.0 L537.8 2798.8 L538.7 2796.0 L539.6 2798.2 L540.5 2796.4 L541.5 2797.6 L542.4 2797.1 L543.3 2797.3 L544.2 2798.2 L545.1 2797.1 L546.0 2796.2 L547.0 2796.2 L547.9 2796.0 L548.8 2798.5 L549.7 2797.4 L550.6 2797.6 L551.6 2798.4 L552.5 2797.3 L553.5 2794.9 L554.4 2796.7 L555.4 2796.9 L556.3 2796.5 L557.2 2795.5 L558.2 2794.8 L559.1 2794.9 L560.1 2795.8 L561.0 2793.8 L562.0 2794.4 L562.9 2794.0 L563.8 2795.3 L564.8 2794.6 L565.7 2794.8 L566.7 2794.2 L567.6 2792.2 L568.6 2791.7 L569.5 2792.4 L570.5 2790.1 L571.5 2787.0 L572.5 2785.2 L573.5 2783.8 L574.5 2780.9 L575.6 2774.8 L576.7 2765.8 L577.8 2757.7 L578.9 2763.4 L580.0 2765.0 L581.1 2771.0 L582.1 2772.4 L583.1 2776.8 L584.0 2775.6 L585.0 2778.6 L586.0 2780.9 L586.9 2776.5 L587.9 2773.7 L588.8 2773.9 L589.8 2771.4 L590.7 2767.3 L591.7 2762.3 L592.6 2761.0 L593.5 2761.1 L594.5 2761.8 L595.4 2764.5 L596.4 2765.5 L597.3 2765.5 L598.3 2766.8 L599.2 2767.6 L600.2 2765.4 L601.2 2766.4 L602.2 2767.4 L603.2 2766.0 L604.2 2762.7 L605.1 2763.7 L606.1 2763.9 L607.1 2761.3 L608.1 2763.3 L609.1 2761.0 L610.0 2760.1 L610.9 2760.4 L611.9 2758.4 L612.8 2760.1 L613.7 2758.5 L614.6 2756.9 L615.6 2754.4 L616.5 2754.9 L617.4 2754.4 L618.5 2749.7 L619.5 2749.0 L620.2 2501.6 L621.3 2502.4 L622.5 2505.1 L623.6 2501.0 L623.9 2242.8 L624.2 2501.0 L625.5 2501.6 L627.0 2554.3 L628.0 2721.6 L629.0 2724.0 L630.0 2729.6 L631.1 2733.5 L632.1 2737.6 L633.0 2732.6 L633.9 2729.5 L634.9 2726.0 L635.8 2720.3 L636.7 2714.7 L637.7 2710.6 L638.6 2709.3 L639.6 2702.0 L640.6 2700.4 L641.6 2696.0 L642.5 2692.6 L643.5 2687.2 L644.4 2688.4 L645.3 2683.7 L646.3 2685.2 L647.2 2682.9 L648.1 2682.6 L649.0 2684.3 L649.9 2686.8 L650.9 2685.5 L651.8 2682.5 L652.7 2685.8 L653.6 2688.0 L654.5 2689.7 L655.5 2689.0 L656.4 2690.7 L657.3 2689.5 L658.2 2686.5 L659.2 2691.7 L660.1 2690.3 L661.1 2689.4 L662.0 2690.9 L663.0 2690.6 L664.0 2685.8 L664.9 2689.8 L665.9 2689.3 L666.8 2685.8 L667.8 2688.8 L668.7 2687.2 L669.6 2688.0 L670.6 2685.9 L671.5 2689.8 L672.5 2686.2 L673.4 2689.2 L674.4 2688.4 L675.3 2687.7 L676.3 2689.7 L677.2 2689.4 L678.2 2688.2 L679.1 2692.9 L680.1 2688.0 L681.0 2687.8 L682.0 2690.9 L682.9 2693.2 L683.9 2692.4 L684.8 2691.8 L685.7 2692.8 L686.6 2690.8 L687.5 2691.4 L688.4 2689.0 L689.3 2688.1 L690.3 2689.1 L691.2 2685.8 L692.1 2685.7 L693.0 2689.1 L693.9 2687.2 L695.1 2681.4 L696.2 2681.0 L697.4 2675.7 L699.0 2646.0 L700.8 2671.2 L701.7 2673.0 L702.6 2670.6 L703.6 2672.3 L704.5 2673.0 L705.4 2671.2 L706.4 2675.4 L707.4 2672.9 L708.4 2675.0 L709.3 2678.3 L710.3 2680.8 L711.3 2681.7 L712.3 2684.9 L713.2 2682.0 L714.2 2685.2 L715.1 2687.7 L716.1 2684.1 L717.0 2685.1 L718.0 2684.2 L719.0 2684.6 L719.9 2687.1 L720.9 2683.8 L721.8 2685.8 L722.8 2684.8 L723.7 2684.9 L724.6 2685.0 L725.5 2687.1 L726.5 2681.9 L727.4 2686.2 L728.3 2683.0 L729.2 2684.9 L730.1 2685.6 L731.1 2684.6 L732.0 2682.9 L732.9 2685.4 L733.8 2680.8 L734.7 2683.9 L735.7 2682.3 L736.6 2682.9 L737.5 2682.6 L738.4 2684.7 L739.3 2684.4 L740.2 2683.4 L741.2 2681.5 L742.1 2681.0 L743.0 2682.3 L743.9 2681.0 L744.8 2681.3 L745.7 2685.3 L746.6 2680.3 L747.6 2684.5 L748.5 2681.9 L749.4 2681.8 L750.3 2681.5 L751.2 2680.1 L752.1 2682.3 L753.1 2680.6 L754.0 2682.3 L754.9 2681.4 L755.8 2682.6 L756.7 2682.7 L757.6 2680.6 L758.6 2675.4 L759.5 2674.3 L760.4 2671.2 L761.4 2670.5 L762.5 2663.2 L763.5 2658.2 L764.5 2657.4 L766.1 2675.7 L767.1 2675.0 L768.1 2675.5 L769.1 2679.4 L770.1 2678.4 L771.1 2679.1 L772.1 2682.7 L773.1 2680.1 L774.1 2682.6 L775.0 2684.9 L775.9 2684.3 L776.9 2683.4 L777.8 2686.4 L778.7 2684.0 L779.6 2687.6 L780.5 2688.3 L781.5 2686.3 L782.4 2687.9 L783.3 2687.2 L784.2 2688.3 L785.2 2685.6 L786.1 2684.1 L787.1 2683.3 L788.0 2682.2 L789.0 2679.6 L790.0 2679.5 L790.9 2673.7 L791.9 2674.2 L792.8 2673.0 L793.8 2669.6 L794.7 2668.9 L795.6 2669.6 L796.5 2669.6 L797.5 2675.8 L798.4 2673.4 L799.3 2675.7 L800.2 2674.9 L801.1 2676.8 L802.1 2671.7 L803.0 2675.8 L803.9 2670.0 L804.8 2668.7 L805.7 2670.0 L806.7 2669.4 L807.6 2672.2 L808.5 2668.9 L809.5 2672.9 L810.5 2673.8 L811.5 2673.4 L812.4 2675.7 L813.4 2675.4 L814.4 2680.7 L815.4 2680.3 L816.3 2679.3 L817.2 2678.4 L818.1 2680.2 L819.1 2677.0 L820.0 2677.7 L820.9 2681.1 L821.8 2675.7 L822.7 2675.7 L823.6 2675.7 L824.5 2675.7 L825.4 2676.4 L826.4 2675.1 L827.3 2675.3 L828.2 2674.4 L829.1 2675.7 L830.0 2675.0 L830.9 2678.2 L831.9 2677.5 L832.8 2678.6 L833.7 2680.3 L834.6 2681.6 L835.5 2677.0 L836.4 2677.1 L837.4 2681.1 L838.3 2678.2 L839.2 2680.0 L840.1 2675.7 L841.0 2677.7 L841.9 2679.4 L842.9 2675.9 L843.8 2678.2 L844.7 2676.9 L845.6 2675.2 L846.5 2678.6 L847.4 2674.5 L848.3 2674.7 L849.3 2675.3 L850.2 2673.0 L851.1 2675.9 L852.0 2673.5 L852.9 2674.1 L853.8 2674.0 L854.7 2673.7 L855.7 2676.5 L856.6 2676.5 L857.5 2675.6 L858.4 2673.2 L859.3 2673.0 L860.2 2673.7 L861.2 2670.7 L862.1 2671.1 L863.0 2676.6 L863.9 2671.2 L864.8 2676.2 L865.7 2674.6 L866.7 2676.1 L867.6 2670.9 L868.5 2672.3 L869.4 2675.3 L870.3 2670.5 L871.2 2671.1 L872.2 2672.6 L873.1 2671.5 L874.0 2671.3 L874.9 2673.5 L875.8 2674.6 L876.7 2671.0 L877.6 2676.5 L878.5 2674.5 L879.4 2670.8 L880.4 2676.1 L881.3 2672.0 L882.2 2673.6 L883.1 2674.1 L884.0 2671.5 L884.9 2673.7 L885.8 2671.0 L886.7 2671.9 L887.6 2676.4 L888.5 2675.8 L889.4 2674.0 L890.3 2675.0 L891.2 2676.2 L892.2 2671.7 L893.1 2673.9 L894.0 2671.7 L894.9 2671.6 L895.8 2671.6 L896.7 2674.0 L897.5 2662.5 L898.5 2660.3 L899.5 2658.9 L900.5 2661.5 L900.5 2529.0 L902.0 2345.0 L904.0 2208.8 L904.5 2345.0 L904.5 2529.0 L905.8 2526.5 L907.0 2529.6 L907.3 2569.5 L908.2 2559.3 L909.1 2552.3 L910.0 2542.0 L911.0 2537.2 L912.0 2525.5 L913.0 2494.0 L913.0 2430.0 L914.1 2434.9 L915.1 2432.6 L916.2 2430.1 L917.3 2430.0 L917.3 2293.0 L919.8 1846.5 L920.7 1829.6 L921.2 1846.5 L921.2 2293.0 L922.1 2299.6 L923.1 2288.3 L924.0 2293.7 L924.0 2399.9 L926.0 2439.6 L927.1 2434.9 L928.2 2443.4 L929.3 2439.6 L930.4 2399.3 L930.9 2379.6 L931.9 2375.6 L932.9 2364.3 L933.9 2362.5 L934.8 2360.8 L935.8 2359.7 L936.7 2361.6 L937.6 2361.5 L938.6 2361.1 L939.5 2362.5 L940.5 2348.8 L941.7 2349.6 L942.8 2346.5 L944.0 2338.7 L945.2 2336.1 L946.3 2331.2 L947.5 2328.1 L948.4 2325.9 L949.3 2333.7 L950.2 2337.8 L951.1 2331.6 L952.1 2329.5 L953.1 2338.1 L954.1 2339.8 L955.1 2338.7 L955.1 2353.9 L956.0 2355.8 L957.0 2346.9 L957.9 2353.8 L958.8 2348.7 L959.7 2348.4 L960.7 2353.5 L961.6 2354.1 L962.5 2353.6 L963.4 2354.9 L964.4 2354.1 L965.3 2350.7 L966.2 2350.8 L967.2 2343.5 L968.2 2352.6 L969.3 2352.3 L970.3 2351.5 L971.3 2345.8 L971.8 2335.2 L973.3 2349.8 L974.2 2350.4 L975.1 2341.7 L976.0 2343.1 L976.9 2341.1 L977.8 2347.7 L978.8 2345.6 L979.7 2339.7 L980.6 2349.8 L981.5 2349.3 L982.4 2341.7 L983.4 2351.4 L984.4 2349.3 L985.4 2353.9 L986.3 2351.0 L987.2 2349.9 L988.1 2358.4 L989.0 2356.7 L989.9 2350.8 L990.8 2359.5 L991.7 2354.9 L992.6 2352.7 L993.5 2353.9 L994.5 2354.3 L995.5 2360.1 L996.6 2358.1 L997.6 2362.5 L998.6 2361.9 L999.9 2352.3 L1001.2 2353.2 L1002.1 2356.5 L1003.0 2350.9 L1003.9 2360.2 L1004.8 2351.0 L1005.8 2353.1 L1006.7 2356.4 L1007.6 2354.9 L1008.5 2357.2 L1009.4 2363.1 L1010.3 2357.7 L1011.2 2353.6 L1012.2 2361.5 L1013.1 2360.4 L1014.1 2361.6 L1015.0 2357.0 L1016.0 2357.1 L1016.9 2355.6 L1017.9 2357.3 L1018.9 2354.3 L1019.8 2353.4 L1020.8 2357.4 L1021.7 2353.5 L1022.6 2357.3 L1023.6 2358.7 L1024.5 2355.1 L1025.5 2357.7 L1026.5 2351.9 L1027.5 2356.6 L1028.5 2358.9 L1029.5 2348.8 L1030.5 2353.0 L1031.5 2350.1 L1036.1 2319.8 L1037.0 2317.9 L1037.9 2317.1 L1038.8 2309.8 L1039.7 2299.9 L1040.6 2298.6 L1041.6 2303.3 L1042.7 2321.8 L1043.7 2325.9 L1044.6 2326.6 L1045.5 2326.2 L1046.4 2342.1 L1047.3 2336.2 L1048.2 2344.1 L1049.1 2339.0 L1050.0 2336.7 L1051.0 2333.4 L1051.9 2337.6 L1052.8 2332.0 L1053.7 2329.4 L1054.6 2330.5 L1055.5 2329.9 L1056.4 2335.6 L1057.3 2323.5 L1058.3 2331.3 L1059.2 2324.5 L1060.1 2324.5 L1061.0 2330.8 L1061.9 2328.9 L1062.8 2327.6 L1063.8 2323.5 L1064.7 2331.6 L1065.6 2336.8 L1066.6 2333.3 L1067.5 2331.7 L1068.4 2336.5 L1069.3 2338.6 L1070.3 2328.1 L1071.2 2330.7 L1072.1 2340.7 L1073.1 2340.6 L1074.0 2335.0 L1074.9 2332.0 L1075.8 2340.3 L1076.7 2344.0 L1077.6 2341.1 L1078.5 2343.9 L1079.5 2342.6 L1080.4 2339.7 L1081.3 2340.6 L1082.2 2339.7 L1083.1 2347.1 L1084.0 2349.9 L1085.0 2343.0 L1085.9 2350.2 L1086.8 2347.5 L1087.8 2348.6 L1088.7 2356.5 L1089.6 2348.9 L1090.5 2350.5 L1091.5 2349.6 L1092.4 2347.8 L1093.3 2348.4 L1094.3 2353.2 L1095.2 2353.2 L1096.1 2357.8 L1097.1 2348.0 L1098.0 2360.1 L1099.0 2356.5 L1099.9 2348.2 L1100.8 2357.5 L1101.8 2353.5 L1102.7 2355.2 L1103.6 2349.8 L1104.6 2355.7 L1105.5 2356.0 L1106.5 2359.9 L1107.4 2356.2 L1108.3 2358.2 L1109.2 2360.8 L1110.1 2362.2 L1111.0 2356.0 L1112.0 2354.2 L1112.9 2361.4 L1113.8 2357.5 L1114.7 2358.6 L1115.6 2362.0 L1116.5 2365.3 L1117.4 2366.2 L1118.4 2367.6 L1119.3 2368.4 L1120.3 2372.8 L1121.2 2361.8 L1122.2 2368.4 L1123.1 2362.4 L1124.0 2370.6 L1125.0 2367.9 L1125.9 2364.3 L1126.9 2366.9 L1127.8 2372.0 L1128.8 2369.9 L1129.7 2376.6 L1130.7 2369.1 L1131.6 2371.4 L1132.5 2370.0 L1133.5 2378.6 L1134.4 2375.1 L1135.4 2369.2 L1136.3 2379.0 L1137.3 2374.1 L1138.2 2382.7 L1139.2 2379.3 L1140.1 2382.3 L1141.1 2384.2 L1142.0 2379.8 L1143.0 2386.7 L1144.0 2375.0 L1144.9 2379.9 L1145.8 2387.2 L1146.8 2383.5 L1147.7 2377.6 L1148.7 2386.9 L1149.6 2391.8 L1150.6 2388.6 L1151.5 2391.1 L1152.5 2381.4 L1153.4 2388.0 L1154.3 2389.5 L1155.3 2387.8 L1156.2 2388.1 L1157.2 2393.5 L1158.1 2385.9 L1159.1 2385.0 L1160.0 2392.7 L1161.0 2398.1 L1161.9 2392.6 L1162.9 2397.4 L1163.8 2396.0 L1164.8 2391.7 L1165.7 2400.1 L1166.7 2389.5 L1167.6 2392.8 L1168.5 2400.3 L1169.5 2402.2 L1170.5 2396.5 L1171.4 2403.5 L1172.3 2393.9 L1173.3 2400.7 L1174.2 2394.5 L1175.2 2397.2 L1176.1 2397.2 L1177.1 2401.7 L1178.0 2395.8 L1179.0 2401.2 L1179.9 2402.8 L1180.9 2400.4 L1181.8 2405.5 L1182.8 2398.3 L1183.8 2404.5 L1184.7 2405.1 L1185.6 2403.9 L1186.6 2410.7 L1187.5 2401.1 L1188.5 2405.3 L1189.5 2406.1 L1190.4 2405.3 L1191.3 2413.3 L1192.3 2407.7 L1193.2 2409.4 L1194.2 2409.4 L1195.1 2409.2 L1196.1 2410.0 L1197.0 2417.1 L1198.0 2416.0 L1198.9 2414.9 L1199.8 2409.6 L1200.8 2415.7 L1201.7 2410.7 L1202.7 2414.2 L1203.6 2411.0 L1204.6 2420.1 L1205.5 2424.3 L1206.5 2420.8 L1207.4 2419.9 L1208.4 2421.2 L1209.3 2417.8 L1210.2 2420.6 L1211.2 2421.4 L1212.2 2421.3 L1213.1 2419.9 L1214.0 2419.8 L1215.0 2426.8 L1216.0 2429.7 L1216.9 2428.6 L1217.8 2426.6 L1218.8 2419.9 L1219.8 2423.7 L1220.7 2430.7 L1221.6 2432.8 L1222.6 2427.5 L1223.5 2428.6 L1224.5 2429.5 L1225.4 2431.5 L1226.4 2426.7 L1227.3 2432.9 L1228.3 2429.3 L1229.2 2435.7 L1230.2 2431.6 L1231.1 2434.6 L1232.0 2433.9 L1233.0 2434.2 L1233.9 2433.9 L1234.9 2440.3 L1235.8 2438.5 L1236.8 2435.1 L1237.7 2436.6 L1238.7 2437.2 L1239.6 2442.4 L1240.5 2441.2 L1241.5 2440.7 L1242.5 2444.8 L1243.4 2435.5 L1244.4 2441.7 L1245.3 2442.6 L1246.2 2441.1 L1247.2 2447.7 L1248.2 2448.3 L1249.1 2442.1 L1250.1 2445.3 L1251.0 2447.6 L1252.0 2447.3 L1252.9 2445.6 L1253.9 2444.6 L1254.8 2450.2 L1255.8 2445.5 L1256.7 2443.8 L1257.7 2450.4 L1258.6 2450.7 L1259.5 2448.5 L1260.5 2450.1 L1261.5 2456.4 L1262.4 2454.8 L1263.3 2450.8 L1264.3 2457.2 L1265.2 2453.8 L1266.2 2452.5 L1267.1 2455.8 L1268.1 2454.7 L1269.0 2458.2 L1270.0 2459.8 L1270.9 2457.5 L1271.9 2457.8 L1272.8 2455.0 L1273.8 2451.2 L1274.7 2456.2 L1275.7 2452.6 L1276.6 2462.3 L1277.5 2456.0 L1278.5 2459.1 L1279.4 2460.8 L1280.4 2454.8 L1281.3 2462.5 L1282.3 2457.0 L1283.2 2459.3 L1284.2 2455.5 L1285.1 2462.3 L1286.0 2461.0 L1287.0 2467.8 L1288.0 2463.4 L1288.9 2460.5 L1289.9 2460.6 L1290.8 2461.7 L1291.8 2467.8 L1292.7 2471.2 L1293.7 2464.8 L1294.6 2468.8 L1295.6 2471.4 L1296.5 2477.0 L1297.5 2478.7 L1298.4 2474.5 L1299.4 2479.2 L1300.3 2477.2 L1301.2 2477.0 L1302.2 2473.7 L1303.2 2478.6 L1304.1 2474.3 L1305.0 2476.3 L1306.0 2482.6 L1307.0 2480.4 L1307.9 2482.6 L1308.8 2480.4 L1309.8 2478.9 L1310.8 2481.9 L1311.7 2483.3 L1312.6 2480.2 L1313.6 2483.6 L1314.5 2487.9 L1315.5 2489.9 L1316.4 2481.9 L1317.4 2483.1 L1318.3 2489.7 L1319.3 2489.3 L1320.2 2484.6 L1321.2 2489.0 L1322.1 2485.9 L1323.0 2493.1 L1324.0 2490.7 L1324.9 2490.5 L1325.9 2487.3 L1326.8 2490.5 L1327.8 2491.8 L1328.7 2492.6 L1329.7 2491.4 L1330.6 2489.8 L1331.5 2490.3 L1332.5 2495.9 L1333.5 2498.5 L1334.4 2497.9 L1335.4 2495.8 L1336.3 2498.0 L1337.2 2491.3 L1338.2 2492.4 L1339.2 2497.9 L1340.1 2490.8 L1341.1 2492.0 L1342.0 2499.5 L1343.0 2493.7 L1343.9 2497.2 L1344.8 2494.6 L1345.8 2497.4 L1346.7 2502.7 L1347.7 2494.8 L1348.6 2504.4 L1349.6 2499.2 L1350.5 2502.6 L1351.5 2502.2 L1352.4 2499.3 L1353.3 2508.5 L1354.3 2501.2 L1355.2 2508.3 L1356.2 2509.7 L1357.1 2506.0 L1358.1 2511.8 L1359.0 2507.8 L1360.0 2504.0 L1360.9 2505.6 L1361.8 2509.6 L1362.8 2506.1 L1363.8 2514.2 L1364.7 2512.0 L1365.7 2515.4 L1366.6 2511.0 L1367.5 2509.0 L1368.5 2518.3 L1369.5 2512.2 L1370.4 2514.9 L1371.4 2512.7 L1372.3 2517.9 L1373.2 2517.4 L1374.2 2518.4 L1375.2 2515.9 L1376.1 2514.8 L1377.0 2518.2 L1378.0 2523.1 L1379.0 2517.4 L1379.9 2518.6 L1380.9 2522.9 L1381.8 2523.5 L1382.8 2525.7 L1383.7 2524.6 L1384.7 2527.1 L1385.6 2520.7 L1386.6 2528.7 L1387.5 2520.4 L1388.5 2521.8 L1389.4 2526.0 L1390.3 2522.5 L1391.3 2529.4 L1392.2 2527.2 L1393.2 2531.6 L1394.1 2532.5 L1395.1 2532.7 L1396.0 2529.8 L1397.0 2527.6 L1397.9 2533.8 L1398.8 2532.1 L1399.8 2527.3 L1400.7 2531.1 L1401.7 2526.3 L1402.6 2526.7 L1403.6 2533.1 L1404.5 2532.1 L1405.4 2534.2 L1406.3 2535.6 L1407.2 2534.5 L1408.1 2528.6 L1409.0 2534.4 L1409.9 2536.7 L1410.8 2533.8 L1411.7 2531.9 L1412.6 2530.1 L1413.5 2527.9 L1414.4 2533.3 L1415.3 2536.5 L1416.2 2532.1 L1417.1 2529.5 L1418.1 2537.3 L1419.0 2539.1 L1419.9 2535.0 L1420.8 2540.8 L1421.8 2535.3 L1422.7 2537.8 L1423.6 2541.4 L1424.6 2545.4 L1425.5 2542.9 L1426.5 2543.4 L1427.4 2539.5 L1428.4 2547.5 L1429.3 2544.4 L1430.3 2546.5 L1431.3 2541.6 L1432.2 2542.8 L1433.2 2544.5 L1434.2 2540.4 L1435.3 2541.0 L1436.3 2543.1 L1437.3 2542.6 L1438.4 2544.6 L1439.4 2542.9 L1440.4 2541.4 L1441.5 2532.0 L1442.5 2529.0 L1443.5 2524.9 L1444.6 2514.0 L1445.6 2504.2 L1448.7 2463.9 L1450.3 2414.3 L1451.3 2409.3 L1452.4 2404.1 L1453.4 2405.0 L1454.4 2411.8 L1455.5 2409.0 L1456.5 2408.1 L1457.8 2411.8 L1459.0 2426.7 L1460.2 2451.5 L1461.2 2455.9 L1462.2 2454.8 L1463.2 2457.6 L1464.2 2460.8 L1465.1 2463.2 L1466.1 2456.4 L1467.0 2456.3 L1468.0 2458.8 L1468.9 2457.7 L1469.8 2458.6 L1470.7 2445.5 L1471.7 2450.4 L1472.6 2445.4 L1473.5 2439.1 L1474.4 2435.3 L1475.4 2441.0 L1476.3 2440.5 L1477.2 2441.6 L1478.2 2439.5 L1479.1 2436.9 L1480.0 2439.1 L1480.9 2436.0 L1481.9 2438.6 L1482.8 2439.1 L1483.8 2442.6 L1484.9 2443.8 L1485.9 2453.0 L1486.9 2449.1 L1487.9 2449.7 L1488.8 2449.4 L1489.8 2450.6 L1490.8 2452.0 L1491.8 2445.6 L1492.7 2448.2 L1493.7 2446.8 L1494.6 2444.1 L1495.6 2442.1 L1496.5 2440.3 L1497.4 2449.1 L1498.3 2448.0 L1499.3 2446.1 L1500.2 2437.5 L1501.1 2436.5 L1502.1 2435.2 L1503.0 2439.1 L1503.9 2434.2 L1504.8 2433.3 L1505.8 2425.7 L1506.7 2428.2 L1507.6 2426.7 L1508.6 2429.0 L1509.7 2430.8 L1510.7 2426.7 L1512.3 2445.3 L1513.3 2442.7 L1514.4 2441.6 L1515.4 2451.8 L1516.4 2448.0 L1517.5 2448.3 L1518.5 2451.5 L1519.4 2447.5 L1520.4 2448.8 L1521.3 2448.8 L1522.2 2448.7 L1523.2 2448.4 L1524.1 2451.7 L1525.0 2455.1 L1525.9 2449.3 L1526.9 2450.5 L1527.8 2451.5 L1528.8 2451.4 L1529.7 2455.7 L1530.7 2454.9 L1531.6 2457.6 L1532.6 2448.3 L1533.5 2455.7 L1534.5 2449.9 L1535.4 2453.3 L1536.4 2452.9 L1537.3 2453.5 L1538.3 2450.7 L1539.2 2448.0 L1540.2 2453.0 L1541.2 2444.7 L1542.3 2452.8 L1543.3 2445.3 L1544.2 2445.5 L1545.1 2436.1 L1546.1 2427.4 L1547.0 2432.0 L1547.9 2423.6 L1548.9 2420.8 L1550.0 2417.5 L1551.0 2416.8 L1552.0 2407.9 L1553.1 2405.8 L1554.1 2406.5 L1555.0 2412.6 L1556.0 2413.8 L1556.9 2419.1 L1557.9 2414.4 L1558.8 2417.4 L1559.8 2424.5 L1560.9 2424.7 L1561.9 2421.3 L1562.9 2427.3 L1564.0 2419.7 L1565.0 2425.1 L1566.0 2419.8 L1566.9 2428.7 L1567.9 2420.4 L1568.8 2424.8 L1569.8 2427.4 L1570.7 2426.6 L1571.7 2420.9 L1572.6 2427.7 L1573.6 2418.5 L1574.5 2424.7 L1575.5 2428.7 L1576.4 2424.3 L1577.4 2423.6 L1578.4 2422.0 L1579.5 2431.2 L1580.5 2428.7 L1581.5 2430.2 L1582.6 2432.2 L1583.6 2428.2 L1584.5 2433.5 L1585.4 2429.1 L1586.3 2432.1 L1587.2 2428.2 L1588.2 2425.2 L1589.1 2425.5 L1590.0 2425.3 L1590.9 2422.5 L1591.8 2429.7 L1592.7 2427.0 L1593.6 2433.2 L1594.5 2422.8 L1595.5 2431.6 L1596.4 2424.5 L1597.3 2426.1 L1598.2 2425.7 L1599.1 2428.2 L1600.1 2435.0 L1601.2 2432.6 L1602.2 2431.7 L1603.2 2429.6 L1604.3 2429.3 L1605.3 2436.0 L1606.3 2434.4 L1607.2 2441.6 L1608.2 2435.3 L1609.1 2438.1 L1610.1 2440.5 L1611.0 2430.6 L1612.0 2433.9 L1612.9 2435.0 L1613.9 2432.7 L1614.8 2434.6 L1615.8 2438.2 L1616.7 2431.7 L1617.7 2436.0 L1618.6 2439.2 L1619.6 2435.4 L1620.5 2440.7 L1621.4 2435.9 L1622.3 2444.1 L1623.3 2440.6 L1624.2 2446.4 L1625.1 2448.9 L1626.1 2445.3 L1627.0 2445.3 L1628.0 2440.3 L1628.9 2444.9 L1629.9 2452.6 L1630.8 2449.4 L1631.8 2451.3 L1632.7 2448.6 L1633.7 2454.5 L1634.6 2454.7 L1635.6 2451.9 L1636.5 2452.3 L1637.5 2447.2 L1638.4 2446.7 L1639.4 2453.0 L1640.4 2450.2 L1641.3 2456.7 L1642.3 2458.8 L1643.2 2458.5 L1644.2 2460.4 L1645.1 2451.2 L1646.1 2451.8 L1647.0 2455.0 L1648.0 2452.9 L1648.9 2460.0 L1649.9 2464.5 L1650.8 2464.7 L1651.8 2460.8 L1652.8 2457.1 L1653.7 2464.1 L1654.7 2464.9 L1655.6 2465.4 L1656.6 2463.4 L1657.5 2462.1 L1658.5 2470.1 L1659.4 2471.0 L1660.4 2469.7 L1661.3 2468.4 L1662.3 2463.5 L1663.2 2466.9 L1664.2 2470.1 L1665.1 2467.7 L1666.0 2468.2 L1666.9 2468.3 L1667.8 2473.8 L1668.8 2474.3 L1669.7 2469.2 L1670.6 2477.7 L1671.5 2468.2 L1672.4 2479.2 L1673.3 2475.5 L1674.2 2476.7 L1675.1 2473.1 L1676.1 2478.1 L1677.0 2480.6 L1677.9 2473.7 L1678.8 2473.3 L1679.7 2477.8 L1680.6 2481.4 L1681.5 2476.0 L1682.4 2474.9 L1683.3 2479.5 L1684.3 2476.7 L1685.2 2477.4 L1686.1 2478.7 L1687.0 2477.0 L1687.9 2485.4 L1688.8 2483.1 L1689.7 2484.5 L1690.6 2481.1 L1691.6 2486.7 L1692.5 2489.2 L1693.4 2490.0 L1694.3 2480.2 L1695.2 2485.6 L1696.2 2484.2 L1697.1 2482.4 L1698.1 2487.1 L1699.0 2489.6 L1700.0 2489.7 L1700.9 2487.6 L1701.9 2494.7 L1702.8 2491.7 L1703.8 2496.2 L1704.7 2490.7 L1705.7 2493.6 L1706.6 2488.5 L1707.6 2493.3 L1708.6 2493.8 L1709.5 2495.1 L1710.5 2490.9 L1711.4 2495.1 L1712.4 2490.0 L1713.3 2493.6 L1714.3 2495.3 L1715.2 2494.1 L1716.2 2490.7 L1717.1 2491.3 L1718.1 2493.3 L1719.0 2496.4 L1720.0 2494.9 L1721.0 2494.7 L1721.9 2492.7 L1722.9 2494.6 L1723.8 2494.8 L1724.8 2493.5 L1725.7 2498.7 L1726.7 2497.9 L1727.6 2496.9 L1728.6 2494.0 L1729.5 2504.0 L1730.5 2495.4 L1731.4 2496.6 L1732.4 2501.1 L1733.3 2500.8 L1734.2 2507.8 L1735.2 2511.1 L1736.1 2511.2 L1737.0 2510.4 L1738.0 2503.8 L1739.1 2506.7 L1740.1 2494.7 L1741.1 2491.9 L1742.2 2488.2 L1743.2 2488.7 L1744.2 2485.8 L1745.3 2482.5 L1746.3 2479.2 L1747.3 2479.2 L1748.4 2473.4 L1749.4 2467.0 L1750.3 2468.8 L1751.3 2461.5 L1752.2 2468.8 L1753.2 2468.0 L1754.1 2462.3 L1755.1 2466.3 L1756.2 2458.1 L1757.2 2465.5 L1758.2 2463.6 L1759.3 2464.1 L1760.3 2463.9 L1761.3 2463.9 L1762.4 2472.1 L1763.4 2475.0 L1764.4 2477.2 L1765.5 2474.7 L1766.5 2479.4 L1767.5 2482.7 L1768.4 2476.5 L1769.4 2483.7 L1770.3 2477.4 L1771.3 2478.0 L1772.3 2479.8 L1773.2 2486.5 L1774.2 2485.6 L1775.1 2491.2 L1776.0 2486.0 L1776.9 2488.3 L1777.8 2488.1 L1778.7 2491.2 L1779.7 2492.9 L1780.6 2491.7 L1781.5 2486.9 L1782.4 2484.5 L1783.3 2493.6 L1784.2 2487.5 L1785.1 2490.2 L1786.0 2493.9 L1787.0 2495.9 L1787.9 2489.5 L1788.8 2490.7 L1789.8 2494.0 L1790.7 2499.4 L1791.6 2500.4 L1792.5 2502.8 L1793.5 2496.2 L1794.4 2499.5 L1795.4 2501.0 L1796.3 2503.8 L1797.3 2498.9 L1798.2 2501.4 L1799.2 2497.8 L1800.1 2504.6 L1801.1 2500.6 L1802.0 2501.3 L1803.0 2503.3 L1803.9 2500.0 L1804.9 2505.4 L1805.8 2501.9 L1806.8 2502.6 L1807.8 2502.9 L1808.9 2507.0 L1809.9 2507.4 L1810.9 2508.9 L1812.0 2511.6 L1813.0 2508.8 L1814.0 2512.3 L1814.9 2508.6 L1815.9 2511.3 L1816.8 2513.9 L1817.8 2506.1 L1818.7 2512.6 L1819.7 2511.6 L1820.6 2510.7 L1821.6 2508.2 L1822.5 2510.3 L1823.5 2515.3 L1824.4 2517.0 L1825.4 2513.5 L1826.3 2518.5 L1827.3 2516.4 L1828.2 2517.8 L1829.1 2517.4 L1830.1 2510.9 L1831.0 2516.3 L1831.9 2518.2 L1832.8 2517.2 L1833.8 2512.6 L1834.7 2515.0 L1835.6 2516.5 L1836.6 2513.0 L1837.5 2512.9 L1838.4 2515.5 L1839.3 2514.5 L1840.3 2508.6 L1841.2 2513.2 L1842.1 2506.9 L1843.1 2507.9 L1844.0 2510.4" fill="none" stroke="#ff0000" stroke-width="2.4" stroke-linejoin="miter" stroke-miterlimit="2"/>
<rect x="577.90" y="845.80" width="6.60" height="81.30" fill="#ff0000"/>
<rect x="885.00" y="255.00" width="6.00" height="457.00" fill="#ff0000"/>
<rect x="352.40" y="1088.60" width="6.10" height="60.60" fill="#ff0000"/>
<rect x="417.80" y="1030.00" width="6.10" height="113.00" fill="#ff0000"/>
<rect x="260.40" y="1235.70" width="6.20" height="36.80" fill="#ff0000"/>
<rect x="830.80" y="999.40" width="6.60" height="109.20" fill="#ff0000"/>
<rect x="833.90" y="1108.60" width="6.50" height="40.40" fill="#ff0000"/>
<rect x="841.40" y="1023.60" width="5.60" height="85.00" fill="#ff0000"/>
<rect x="841.40" y="1084.80" width="9.60" height="23.80" fill="#ff0000"/>
<rect x="892.50" y="959.00" width="5.50" height="9.00" fill="#ff0000"/>
<rect x="916.20" y="1846.50" width="5.80" height="446.20" fill="#ff0000"/>
<rect x="899.00" y="2344.80" width="6.40" height="184.20" fill="#ff0000"/>
<rect x="909.10" y="2430.00" width="9.60" height="64.20" fill="#ff0000"/>
<rect x="909.10" y="2494.00" width="6.60" height="31.50" fill="#ff0000"/>
<rect x="906.00" y="2529.60" width="5.70" height="12.60" fill="#ff0000"/>
<rect x="922.80" y="2399.90" width="6.50" height="39.70" fill="#ff0000"/>
<rect x="619.50" y="2501.00" width="6.00" height="53.00" fill="#ff0000"/>
<rect x="322.30" y="2833.70" width="12.20" height="32.10" fill="#ff0000"/>
<rect x="329.30" y="2800.00" width="5.20" height="50.00" fill="#ff0000"/>
<rect x="362.80" y="2810.20" width="6.10" height="18.80" fill="#ff0000"/>
<rect x="400.50" y="2768.00" width="6.50" height="46.00" fill="#ff0000"/>
<rect x="462.50" y="2752.00" width="6.00" height="36.00" fill="#ff0000"/>
<rect x="575.30" y="2756.00" width="4.40" height="24.00" fill="#ff0000"/>
<rect x="628.50" y="2722.00" width="4.00" height="18.00" fill="#ff0000"/>
<line x1="205.6" y1="1109.0" x2="233.8" y2="1147.1" stroke="#000" stroke-width="2.5"/><polygon points="252.3,1172.0 224.2,1149.2 238.7,1138.5" fill="#000"/>
<line x1="320.5" y1="1006.7" x2="288.2" y2="1237.9" stroke="#000" stroke-width="2.5"/><polygon points="283.9,1268.6 279.8,1232.7 297.7,1235.2" fill="#000"/>
<line x1="378.0" y1="788.0" x2="362.4" y2="1039.6" stroke="#000" stroke-width="2.5"/><polygon points="360.5,1070.5 353.7,1035.0 371.6,1036.1" fill="#000"/>
<line x1="731.8" y1="863.8" x2="802.0" y2="891.9" stroke="#000" stroke-width="2.5"/><polygon points="830.8,903.4 795.0,898.8 801.6,882.0" fill="#000"/>
<line x1="824.9" y1="617.8" x2="845.8" y2="912.1" stroke="#000" stroke-width="2.5"/><polygon points="848.0,943.0 836.5,908.7 854.5,907.5" fill="#000"/>
<line x1="224.5" y1="2561.3" x2="306.1" y2="2781.5" stroke="#000" stroke-width="2.5"/><polygon points="316.9,2810.6 296.3,2780.9 313.2,2774.7" fill="#000"/>
<line x1="336.7" y1="2490.1" x2="399.8" y2="2731.0" stroke="#000" stroke-width="2.5"/><polygon points="407.7,2761.0 390.1,2729.4 407.5,2724.9" fill="#000"/>
<line x1="516.7" y1="2529.8" x2="568.2" y2="2724.4" stroke="#000" stroke-width="2.5"/><polygon points="576.1,2754.4 558.5,2722.9 575.9,2718.3" fill="#000"/>
<line x1="691.6" y1="2368.7" x2="694.7" y2="2589.8" stroke="#000" stroke-width="2.5"/><polygon points="695.1,2620.8 685.6,2585.9 703.6,2585.7" fill="#000"/>
<line x1="781.0" y1="2468.4" x2="770.5" y2="2626.5" stroke="#000" stroke-width="2.5"/><polygon points="768.4,2657.4 761.7,2621.9 779.7,2623.1" fill="#000"/>
<line x1="836.0" y1="2525.7" x2="812.0" y2="2613.8" stroke="#000" stroke-width="2.5"/><polygon points="803.9,2643.7 804.4,2607.6 821.8,2612.3" fill="#000"/>
<line x1="818.1" y1="2017.4" x2="886.2" y2="2181.5" stroke="#000" stroke-width="2.5"/><polygon points="898.1,2210.1 876.4,2181.2 893.0,2174.3" fill="#000"/>
<line x1="1050.4" y1="2184.5" x2="1041.3" y2="2237.7" stroke="#000" stroke-width="2.5"/><polygon points="1036.1,2268.3 1033.1,2232.3 1050.9,2235.3" fill="#000"/>
<line x1="1368.1" y1="2285.0" x2="1435.6" y2="2369.8" stroke="#000" stroke-width="2.5"/><polygon points="1454.9,2394.1 1426.1,2372.3 1440.2,2361.1" fill="#000"/>
<text x="907.32" y="247.30" textLength="64.96" lengthAdjust="spacingAndGlyphs" font-family="Liberation Sans, sans-serif" font-weight="normal" font-size="37.00" fill="#4a4a4a">O1s</text>
<text x="755.70" y="592.40" textLength="95.41" lengthAdjust="spacingAndGlyphs" font-family="Liberation Sans, sans-serif" font-weight="normal" font-size="37.00" fill="#4a4a4a">Mo3s</text>
<text x="529.52" y="674.00" textLength="69.50" lengthAdjust="spacingAndGlyphs" font-family="Liberation Sans, sans-serif" font-weight="normal" font-size="37.00" fill="#4a4a4a">C1s</text>
<text x="348.25" y="787.20" textLength="76.96" lengthAdjust="spacingAndGlyphs" font-family="Liberation Sans, sans-serif" font-weight="normal" font-size="37.00" fill="#4a4a4a">Si2p</text>
<text x="278.03" y="984.50" textLength="65.34" lengthAdjust="spacingAndGlyphs" font-family="Liberation Sans, sans-serif" font-weight="normal" font-size="37.00" fill="#4a4a4a">V3s</text>
<text x="184.64" y="1107.50" textLength="65.51" lengthAdjust="spacingAndGlyphs" font-family="Liberation Sans, sans-serif" font-weight="normal" font-size="37.00" fill="#4a4a4a">V3p</text>
<text x="659.79" y="852.20" textLength="108.79" lengthAdjust="spacingAndGlyphs" font-family="Liberation Sans, sans-serif" font-weight="normal" font-size="37.00" fill="#4a4a4a">Sn3d5</text>
<text x="1384.03" y="693.70" textLength="95.41" lengthAdjust="spacingAndGlyphs" font-family="Liberation Sans, sans-serif" font-weight="normal" font-size="37.00" fill="#4a4a4a">OKLL</text>
<text x="944.48" y="1876.80" textLength="70.51" lengthAdjust="spacingAndGlyphs" font-family="Liberation Sans, sans-serif" font-weight="normal" font-size="37.00" fill="#4a4a4a">O1s</text>
<text x="738.93" y="1995.80" textLength="69.20" lengthAdjust="spacingAndGlyphs" font-family="Liberation Sans, sans-serif" font-weight="normal" font-size="37.00" fill="#4a4a4a">V2p</text>
<text x="977.42" y="2173.70" textLength="69.02" lengthAdjust="spacingAndGlyphs" font-family="Liberation Sans, sans-serif" font-weight="normal" font-size="37.00" fill="#4a4a4a">V2s</text>
<text x="1298.13" y="2268.30" textLength="95.51" lengthAdjust="spacingAndGlyphs" font-family="Liberation Sans, sans-serif" font-weight="normal" font-size="37.00" fill="#4a4a4a">OKLL</text>
<text x="587.17" y="2217.30" textLength="74.08" lengthAdjust="spacingAndGlyphs" font-family="Liberation Sans, sans-serif" font-weight="normal" font-size="37.00" fill="#4a4a4a">C1S</text>
<text x="638.10" y="2341.20" textLength="94.15" lengthAdjust="spacingAndGlyphs" font-family="Liberation Sans, sans-serif" font-weight="normal" font-size="37.00" fill="#4a4a4a">Ca2p</text>
<text x="752.29" y="2450.00" textLength="76.05" lengthAdjust="spacingAndGlyphs" font-family="Liberation Sans, sans-serif" font-weight="normal" font-size="37.00" fill="#4a4a4a">N1s</text>
<text x="803.74" y="2525.70" textLength="80.01" lengthAdjust="spacingAndGlyphs" font-family="Liberation Sans, sans-serif" font-weight="normal" font-size="37.00" fill="#4a4a4a">W3P</text>
<text x="463.74" y="2511.60" textLength="76.87" lengthAdjust="spacingAndGlyphs" font-family="Liberation Sans, sans-serif" font-weight="normal" font-size="37.00" fill="#4a4a4a">W4d</text>
<text x="287.18" y="2476.90" textLength="75.92" lengthAdjust="spacingAndGlyphs" font-family="Liberation Sans, sans-serif" font-weight="normal" font-size="37.00" fill="#4a4a4a">Si2p</text>
<text x="192.32" y="2544.60" textLength="73.42" lengthAdjust="spacingAndGlyphs" font-family="Liberation Sans, sans-serif" font-weight="normal" font-size="37.00" fill="#4a4a4a">W4f</text></svg></body></html>
